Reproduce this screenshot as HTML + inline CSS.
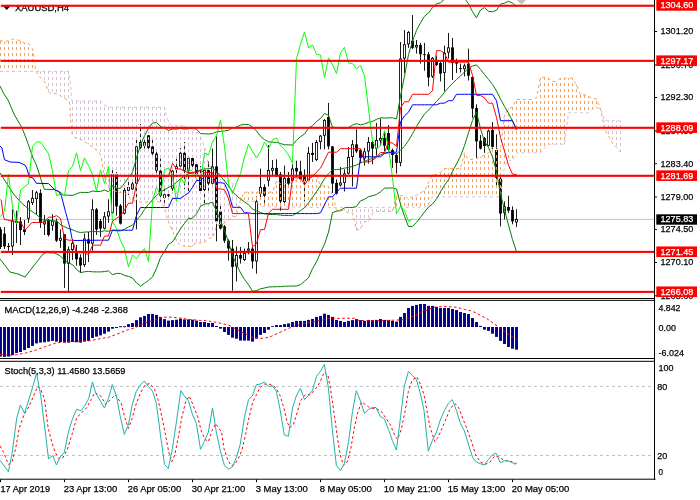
<!DOCTYPE html><html><head><meta charset="utf-8"><title>XAUUSD,H4</title>
<style>html,body{margin:0;padding:0;background:#fff;overflow:hidden}svg{display:block}text{font-family:"Liberation Sans",sans-serif;font-size:9.8px;stroke-width:0.25px}</style></head><body>
<svg width="700" height="500" viewBox="0 0 700 500">
<rect width="700" height="500" fill="#fff"/>
<defs><clipPath id="cm"><rect x="0" y="0" width="654" height="298"/></clipPath><clipPath id="c2"><rect x="0" y="301" width="654" height="58"/></clipPath><clipPath id="c3"><rect x="0" y="362" width="654" height="116"/></clipPath></defs>
<g clip-path="url(#cm)">
<rect x="0" y="218.9" width="654" height="1" fill="#c0c0c0"/>
<rect x="0.05" y="227.0" width="0.9" height="22.0" fill="#000"/>
<rect x="-0.90" y="229.3" width="2.8" height="17.7" fill="#000"/>
<rect x="4.05" y="227.0" width="0.9" height="22.0" fill="#000"/>
<rect x="3.10" y="233.6" width="2.8" height="12.8" fill="#000"/>
<rect x="8.05" y="243.0" width="0.9" height="7.7" fill="#000"/>
<rect x="7.10" y="246.0" width="2.8" height="1.0" fill="#000"/>
<rect x="12.05" y="209.3" width="0.9" height="45.7" fill="#000"/>
<rect x="11.50" y="221.1" width="2.0" height="24.9" fill="#fff" stroke="#000" stroke-width="0.85"/>
<rect x="16.05" y="210.7" width="0.9" height="32.3" fill="#000"/>
<rect x="15.10" y="221.0" width="2.8" height="2.0" fill="#000"/>
<rect x="20.05" y="217.0" width="0.9" height="28.0" fill="#000"/>
<rect x="19.10" y="221.4" width="2.8" height="8.6" fill="#000"/>
<rect x="24.05" y="220.0" width="0.9" height="15.0" fill="#000"/>
<rect x="23.10" y="229.3" width="2.8" height="2.7" fill="#000"/>
<rect x="28.05" y="200.0" width="0.9" height="22.9" fill="#000"/>
<rect x="27.50" y="201.8" width="2.0" height="16.4" fill="#fff" stroke="#000" stroke-width="0.85"/>
<rect x="32.05" y="190.0" width="0.9" height="15.0" fill="#000"/>
<rect x="31.50" y="198.3" width="2.0" height="4.2" fill="#fff" stroke="#000" stroke-width="0.85"/>
<rect x="36.05" y="191.0" width="0.9" height="23.3" fill="#000"/>
<rect x="35.50" y="192.8" width="2.0" height="5.8" fill="#fff" stroke="#000" stroke-width="0.85"/>
<rect x="40.05" y="189.3" width="0.9" height="38.6" fill="#000"/>
<rect x="39.10" y="192.9" width="2.8" height="30.0" fill="#000"/>
<rect x="44.05" y="215.0" width="0.9" height="20.0" fill="#000"/>
<rect x="43.50" y="221.8" width="2.0" height="2.1" fill="#fff" stroke="#000" stroke-width="0.85"/>
<rect x="48.05" y="219.0" width="0.9" height="17.5" fill="#000"/>
<rect x="47.10" y="220.0" width="2.8" height="15.0" fill="#000"/>
<rect x="52.05" y="214.3" width="0.9" height="16.4" fill="#000"/>
<rect x="51.50" y="221.1" width="2.0" height="4.2" fill="#fff" stroke="#000" stroke-width="0.85"/>
<rect x="56.05" y="218.6" width="0.9" height="23.4" fill="#000"/>
<rect x="55.10" y="221.4" width="2.8" height="19.3" fill="#000"/>
<rect x="60.05" y="229.3" width="0.9" height="18.6" fill="#000"/>
<rect x="59.50" y="238.3" width="2.0" height="2.0" fill="#fff" stroke="#000" stroke-width="0.85"/>
<rect x="64.05" y="234.0" width="0.9" height="53.9" fill="#000"/>
<rect x="63.10" y="234.3" width="2.8" height="29.3" fill="#000"/>
<rect x="68.05" y="246.4" width="0.9" height="44.6" fill="#000"/>
<rect x="67.50" y="249.7" width="2.0" height="13.5" fill="#fff" stroke="#000" stroke-width="0.85"/>
<rect x="72.05" y="239.3" width="0.9" height="20.7" fill="#000"/>
<rect x="71.50" y="243.3" width="2.0" height="6.3" fill="#fff" stroke="#000" stroke-width="0.85"/>
<rect x="76.05" y="245.0" width="0.9" height="20.7" fill="#000"/>
<rect x="75.10" y="252.0" width="2.8" height="7.3" fill="#000"/>
<rect x="80.05" y="254.3" width="0.9" height="18.6" fill="#000"/>
<rect x="79.10" y="257.5" width="2.8" height="8.0" fill="#000"/>
<rect x="84.05" y="233.6" width="0.9" height="33.4" fill="#000"/>
<rect x="83.50" y="239.0" width="2.0" height="25.6" fill="#fff" stroke="#000" stroke-width="0.85"/>
<rect x="88.05" y="232.0" width="0.9" height="30.0" fill="#000"/>
<rect x="87.10" y="239.3" width="2.8" height="4.3" fill="#000"/>
<rect x="92.05" y="199.3" width="0.9" height="51.4" fill="#000"/>
<rect x="91.50" y="209.7" width="2.0" height="33.5" fill="#fff" stroke="#000" stroke-width="0.85"/>
<rect x="96.05" y="208.0" width="0.9" height="27.0" fill="#000"/>
<rect x="95.10" y="209.3" width="2.8" height="20.2" fill="#000"/>
<rect x="100.05" y="219.0" width="0.9" height="18.0" fill="#000"/>
<rect x="99.10" y="221.0" width="2.8" height="7.6" fill="#000"/>
<rect x="104.05" y="212.0" width="0.9" height="17.5" fill="#000"/>
<rect x="103.50" y="216.8" width="2.0" height="11.4" fill="#fff" stroke="#000" stroke-width="0.85"/>
<rect x="108.05" y="199.3" width="0.9" height="23.6" fill="#000"/>
<rect x="107.50" y="211.8" width="2.0" height="4.2" fill="#fff" stroke="#000" stroke-width="0.85"/>
<rect x="112.05" y="169.3" width="0.9" height="44.2" fill="#000"/>
<rect x="111.50" y="174.7" width="2.0" height="37.8" fill="#fff" stroke="#000" stroke-width="0.85"/>
<rect x="116.05" y="172.0" width="0.9" height="43.7" fill="#000"/>
<rect x="115.10" y="174.3" width="2.8" height="32.1" fill="#000"/>
<rect x="120.05" y="204.0" width="0.9" height="20.5" fill="#000"/>
<rect x="119.10" y="205.7" width="2.8" height="17.9" fill="#000"/>
<rect x="124.05" y="188.0" width="0.9" height="26.5" fill="#000"/>
<rect x="123.50" y="190.4" width="2.0" height="22.8" fill="#fff" stroke="#000" stroke-width="0.85"/>
<rect x="128.05" y="182.0" width="0.9" height="13.0" fill="#000"/>
<rect x="127.50" y="187.4" width="2.0" height="2.9" fill="#fff" stroke="#000" stroke-width="0.85"/>
<rect x="132.05" y="180.0" width="0.9" height="10.0" fill="#000"/>
<rect x="131.50" y="184.0" width="2.0" height="4.9" fill="#fff" stroke="#000" stroke-width="0.85"/>
<rect x="136.05" y="139.3" width="0.9" height="90.0" fill="#000"/>
<rect x="135.50" y="146.8" width="2.0" height="36.4" fill="#fff" stroke="#000" stroke-width="0.85"/>
<rect x="140.05" y="124.0" width="0.9" height="28.0" fill="#000"/>
<rect x="139.50" y="142.4" width="2.0" height="5.1" fill="#fff" stroke="#000" stroke-width="0.85"/>
<rect x="144.05" y="139.0" width="0.9" height="9.5" fill="#000"/>
<rect x="143.50" y="142.4" width="2.0" height="2.9" fill="#fff" stroke="#000" stroke-width="0.85"/>
<rect x="148.05" y="135.0" width="0.9" height="17.0" fill="#000"/>
<rect x="147.10" y="135.3" width="2.8" height="12.6" fill="#000"/>
<rect x="152.05" y="140.0" width="0.9" height="15.0" fill="#000"/>
<rect x="151.10" y="146.4" width="2.8" height="7.2" fill="#000"/>
<rect x="156.05" y="152.0" width="0.9" height="20.9" fill="#000"/>
<rect x="155.10" y="153.6" width="2.8" height="17.1" fill="#000"/>
<rect x="160.05" y="158.6" width="0.9" height="42.8" fill="#000"/>
<rect x="159.10" y="170.7" width="2.8" height="25.0" fill="#000"/>
<rect x="164.05" y="188.6" width="0.9" height="14.3" fill="#000"/>
<rect x="163.50" y="194.7" width="2.0" height="2.8" fill="#fff" stroke="#000" stroke-width="0.85"/>
<rect x="168.05" y="190.7" width="0.9" height="8.3" fill="#000"/>
<rect x="167.10" y="194.3" width="2.8" height="1.4" fill="#000"/>
<rect x="172.05" y="167.0" width="0.9" height="23.7" fill="#000"/>
<rect x="171.50" y="171.1" width="2.0" height="17.1" fill="#fff" stroke="#000" stroke-width="0.85"/>
<rect x="176.05" y="158.6" width="0.9" height="18.4" fill="#000"/>
<rect x="175.50" y="166.8" width="2.0" height="2.1" fill="#fff" stroke="#000" stroke-width="0.85"/>
<rect x="180.05" y="147.9" width="0.9" height="20.1" fill="#000"/>
<rect x="179.50" y="153.3" width="2.0" height="12.7" fill="#fff" stroke="#000" stroke-width="0.85"/>
<rect x="184.05" y="142.0" width="0.9" height="47.3" fill="#000"/>
<rect x="183.10" y="152.9" width="2.8" height="17.8" fill="#000"/>
<rect x="188.05" y="156.0" width="0.9" height="36.0" fill="#000"/>
<rect x="187.50" y="158.3" width="2.0" height="12.0" fill="#fff" stroke="#000" stroke-width="0.85"/>
<rect x="192.05" y="157.0" width="0.9" height="10.0" fill="#000"/>
<rect x="191.10" y="158.0" width="2.8" height="7.7" fill="#000"/>
<rect x="196.05" y="161.4" width="0.9" height="14.6" fill="#000"/>
<rect x="195.10" y="164.3" width="2.8" height="10.0" fill="#000"/>
<rect x="200.05" y="166.0" width="0.9" height="27.0" fill="#000"/>
<rect x="199.10" y="175.0" width="2.8" height="16.0" fill="#000"/>
<rect x="204.05" y="167.0" width="0.9" height="36.0" fill="#000"/>
<rect x="203.50" y="170.4" width="2.0" height="19.2" fill="#fff" stroke="#000" stroke-width="0.85"/>
<rect x="208.05" y="161.4" width="0.9" height="29.3" fill="#000"/>
<rect x="207.10" y="170.0" width="2.8" height="13.6" fill="#000"/>
<rect x="212.05" y="148.6" width="0.9" height="35.9" fill="#000"/>
<rect x="211.50" y="166.8" width="2.0" height="16.4" fill="#fff" stroke="#000" stroke-width="0.85"/>
<rect x="216.05" y="136.4" width="0.9" height="105.0" fill="#000"/>
<rect x="215.10" y="166.4" width="2.8" height="55.0" fill="#000"/>
<rect x="220.05" y="203.0" width="0.9" height="26.5" fill="#000"/>
<rect x="219.10" y="211.4" width="2.8" height="17.2" fill="#000"/>
<rect x="224.05" y="225.0" width="0.9" height="17.9" fill="#000"/>
<rect x="223.10" y="226.4" width="2.8" height="14.3" fill="#000"/>
<rect x="228.05" y="239.3" width="0.9" height="21.4" fill="#000"/>
<rect x="227.10" y="240.7" width="2.8" height="7.9" fill="#000"/>
<rect x="232.05" y="240.0" width="0.9" height="50.7" fill="#000"/>
<rect x="231.10" y="248.6" width="2.8" height="18.4" fill="#000"/>
<rect x="236.05" y="246.4" width="0.9" height="35.0" fill="#000"/>
<rect x="235.50" y="255.4" width="2.0" height="10.6" fill="#fff" stroke="#000" stroke-width="0.85"/>
<rect x="240.05" y="247.0" width="0.9" height="16.6" fill="#000"/>
<rect x="239.10" y="255.0" width="2.8" height="3.6" fill="#000"/>
<rect x="244.05" y="248.6" width="0.9" height="12.4" fill="#000"/>
<rect x="243.50" y="253.3" width="2.0" height="6.3" fill="#fff" stroke="#000" stroke-width="0.85"/>
<rect x="248.05" y="242.0" width="0.9" height="12.3" fill="#000"/>
<rect x="247.50" y="249.0" width="2.0" height="1.3" fill="#fff" stroke="#000" stroke-width="0.85"/>
<rect x="252.05" y="247.0" width="0.9" height="21.6" fill="#000"/>
<rect x="251.10" y="248.6" width="2.8" height="12.8" fill="#000"/>
<rect x="256.05" y="196.4" width="0.9" height="77.2" fill="#000"/>
<rect x="255.50" y="201.8" width="2.0" height="59.2" fill="#fff" stroke="#000" stroke-width="0.85"/>
<rect x="260.05" y="168.6" width="0.9" height="28.4" fill="#000"/>
<rect x="259.50" y="187.4" width="2.0" height="5.8" fill="#fff" stroke="#000" stroke-width="0.85"/>
<rect x="264.05" y="184.3" width="0.9" height="18.6" fill="#000"/>
<rect x="263.10" y="187.0" width="2.8" height="8.7" fill="#000"/>
<rect x="268.05" y="145.0" width="0.9" height="41.4" fill="#000"/>
<rect x="267.50" y="170.4" width="2.0" height="9.9" fill="#fff" stroke="#000" stroke-width="0.85"/>
<rect x="272.05" y="160.0" width="0.9" height="15.7" fill="#000"/>
<rect x="271.50" y="168.3" width="2.0" height="2.0" fill="#fff" stroke="#000" stroke-width="0.85"/>
<rect x="276.05" y="159.3" width="0.9" height="17.7" fill="#000"/>
<rect x="275.10" y="167.9" width="2.8" height="7.8" fill="#000"/>
<rect x="280.05" y="172.0" width="0.9" height="38.7" fill="#000"/>
<rect x="279.10" y="174.3" width="2.8" height="27.1" fill="#000"/>
<rect x="284.05" y="165.7" width="0.9" height="38.3" fill="#000"/>
<rect x="283.50" y="178.3" width="2.0" height="23.3" fill="#fff" stroke="#000" stroke-width="0.85"/>
<rect x="288.05" y="172.0" width="0.9" height="15.9" fill="#000"/>
<rect x="287.10" y="177.9" width="2.8" height="5.7" fill="#000"/>
<rect x="292.05" y="164.3" width="0.9" height="17.2" fill="#000"/>
<rect x="291.50" y="169.0" width="2.0" height="11.3" fill="#fff" stroke="#000" stroke-width="0.85"/>
<rect x="296.05" y="160.7" width="0.9" height="16.3" fill="#000"/>
<rect x="295.10" y="167.9" width="2.8" height="3.5" fill="#000"/>
<rect x="300.05" y="160.7" width="0.9" height="19.3" fill="#000"/>
<rect x="299.10" y="171.4" width="2.8" height="7.9" fill="#000"/>
<rect x="304.05" y="169.3" width="0.9" height="32.2" fill="#000"/>
<rect x="303.10" y="175.7" width="2.8" height="5.7" fill="#000"/>
<rect x="308.05" y="147.0" width="0.9" height="34.5" fill="#000"/>
<rect x="307.50" y="153.3" width="2.0" height="27.0" fill="#fff" stroke="#000" stroke-width="0.85"/>
<rect x="312.05" y="142.9" width="0.9" height="19.1" fill="#000"/>
<rect x="311.10" y="152.9" width="2.8" height="2.1" fill="#000"/>
<rect x="316.05" y="140.0" width="0.9" height="21.0" fill="#000"/>
<rect x="315.50" y="142.4" width="2.0" height="17.2" fill="#fff" stroke="#000" stroke-width="0.85"/>
<rect x="320.05" y="135.0" width="0.9" height="14.3" fill="#000"/>
<rect x="319.50" y="136.1" width="2.0" height="5.5" fill="#fff" stroke="#000" stroke-width="0.85"/>
<rect x="324.05" y="119.0" width="0.9" height="30.3" fill="#000"/>
<rect x="323.50" y="120.4" width="2.0" height="14.9" fill="#fff" stroke="#000" stroke-width="0.85"/>
<rect x="328.05" y="102.9" width="0.9" height="46.4" fill="#000"/>
<rect x="327.10" y="117.0" width="2.8" height="29.4" fill="#000"/>
<rect x="332.05" y="146.0" width="0.9" height="46.9" fill="#000"/>
<rect x="331.10" y="146.4" width="2.8" height="37.2" fill="#000"/>
<rect x="336.05" y="179.3" width="0.9" height="15.2" fill="#000"/>
<rect x="335.10" y="182.9" width="2.8" height="10.7" fill="#000"/>
<rect x="340.05" y="167.0" width="0.9" height="19.5" fill="#000"/>
<rect x="339.50" y="183.0" width="2.0" height="2.0" fill="#fff" stroke="#000" stroke-width="0.85"/>
<rect x="344.05" y="169.3" width="0.9" height="22.1" fill="#000"/>
<rect x="343.50" y="174.0" width="2.0" height="8.5" fill="#fff" stroke="#000" stroke-width="0.85"/>
<rect x="348.05" y="147.0" width="0.9" height="27.5" fill="#000"/>
<rect x="347.50" y="157.4" width="2.0" height="15.8" fill="#fff" stroke="#000" stroke-width="0.85"/>
<rect x="352.05" y="140.0" width="0.9" height="46.4" fill="#000"/>
<rect x="351.50" y="144.7" width="2.0" height="11.9" fill="#fff" stroke="#000" stroke-width="0.85"/>
<rect x="356.05" y="129.3" width="0.9" height="23.7" fill="#000"/>
<rect x="355.10" y="144.3" width="2.8" height="7.1" fill="#000"/>
<rect x="360.05" y="149.0" width="0.9" height="13.9" fill="#000"/>
<rect x="359.10" y="150.0" width="2.8" height="7.9" fill="#000"/>
<rect x="364.05" y="147.9" width="0.9" height="17.8" fill="#000"/>
<rect x="363.50" y="151.8" width="2.0" height="6.4" fill="#fff" stroke="#000" stroke-width="0.85"/>
<rect x="368.05" y="137.0" width="0.9" height="26.6" fill="#000"/>
<rect x="367.50" y="142.4" width="2.0" height="8.6" fill="#fff" stroke="#000" stroke-width="0.85"/>
<rect x="372.05" y="141.0" width="0.9" height="23.3" fill="#000"/>
<rect x="371.10" y="142.0" width="2.8" height="6.6" fill="#000"/>
<rect x="376.05" y="122.9" width="0.9" height="32.8" fill="#000"/>
<rect x="375.50" y="140.4" width="2.0" height="7.8" fill="#fff" stroke="#000" stroke-width="0.85"/>
<rect x="380.05" y="118.6" width="0.9" height="27.4" fill="#000"/>
<rect x="379.50" y="138.4" width="2.0" height="1.7" fill="#fff" stroke="#000" stroke-width="0.85"/>
<rect x="384.05" y="131.4" width="0.9" height="20.0" fill="#000"/>
<rect x="383.10" y="137.9" width="2.8" height="7.8" fill="#000"/>
<rect x="388.05" y="125.0" width="0.9" height="26.0" fill="#000"/>
<rect x="387.10" y="133.0" width="2.8" height="16.7" fill="#000"/>
<rect x="392.05" y="148.6" width="0.9" height="19.3" fill="#000"/>
<rect x="391.10" y="150.0" width="2.8" height="5.0" fill="#000"/>
<rect x="396.05" y="153.0" width="0.9" height="20.6" fill="#000"/>
<rect x="395.10" y="155.0" width="2.8" height="7.9" fill="#000"/>
<rect x="400.05" y="42.0" width="0.9" height="124.4" fill="#000"/>
<rect x="399.50" y="59.0" width="2.0" height="103.5" fill="#fff" stroke="#000" stroke-width="0.85"/>
<rect x="404.05" y="30.0" width="0.9" height="43.0" fill="#000"/>
<rect x="403.50" y="44.7" width="2.0" height="13.5" fill="#fff" stroke="#000" stroke-width="0.85"/>
<rect x="408.05" y="31.0" width="0.9" height="16.9" fill="#000"/>
<rect x="407.50" y="32.4" width="2.0" height="11.5" fill="#fff" stroke="#000" stroke-width="0.85"/>
<rect x="412.05" y="15.0" width="0.9" height="34.0" fill="#000"/>
<rect x="411.10" y="40.7" width="2.8" height="7.2" fill="#000"/>
<rect x="416.05" y="40.0" width="0.9" height="13.6" fill="#000"/>
<rect x="415.50" y="45.4" width="2.0" height="1.6" fill="#fff" stroke="#000" stroke-width="0.85"/>
<rect x="420.05" y="42.9" width="0.9" height="20.7" fill="#000"/>
<rect x="419.10" y="45.0" width="2.8" height="9.3" fill="#000"/>
<rect x="424.05" y="42.9" width="0.9" height="27.8" fill="#000"/>
<rect x="423.10" y="54.2" width="2.8" height="0.9" fill="#000"/>
<rect x="428.05" y="52.0" width="0.9" height="34.4" fill="#000"/>
<rect x="427.10" y="54.3" width="2.8" height="23.2" fill="#000"/>
<rect x="432.05" y="57.0" width="0.9" height="21.0" fill="#000"/>
<rect x="431.50" y="58.3" width="2.0" height="17.8" fill="#fff" stroke="#000" stroke-width="0.85"/>
<rect x="436.05" y="55.7" width="0.9" height="10.3" fill="#000"/>
<rect x="435.10" y="60.0" width="2.8" height="5.0" fill="#000"/>
<rect x="440.05" y="62.0" width="0.9" height="19.4" fill="#000"/>
<rect x="439.10" y="62.9" width="2.8" height="10.7" fill="#000"/>
<rect x="444.05" y="45.7" width="0.9" height="45.7" fill="#000"/>
<rect x="443.50" y="53.3" width="2.0" height="19.2" fill="#fff" stroke="#000" stroke-width="0.85"/>
<rect x="448.05" y="32.9" width="0.9" height="25.7" fill="#000"/>
<rect x="447.50" y="47.8" width="2.0" height="4.4" fill="#fff" stroke="#000" stroke-width="0.85"/>
<rect x="452.05" y="37.9" width="0.9" height="42.1" fill="#000"/>
<rect x="451.10" y="47.4" width="2.8" height="15.5" fill="#000"/>
<rect x="456.05" y="58.6" width="0.9" height="14.3" fill="#000"/>
<rect x="455.10" y="61.7" width="2.8" height="1.9" fill="#000"/>
<rect x="460.05" y="63.6" width="0.9" height="8.9" fill="#000"/>
<rect x="459.10" y="68.0" width="2.8" height="0.9" fill="#000"/>
<rect x="464.05" y="63.6" width="0.9" height="12.8" fill="#000"/>
<rect x="463.50" y="65.9" width="2.0" height="2.9" fill="#fff" stroke="#000" stroke-width="0.85"/>
<rect x="468.05" y="48.6" width="0.9" height="31.9" fill="#000"/>
<rect x="467.10" y="63.6" width="2.8" height="12.1" fill="#000"/>
<rect x="472.05" y="76.0" width="0.9" height="41.9" fill="#000"/>
<rect x="471.10" y="77.0" width="2.8" height="31.6" fill="#000"/>
<rect x="476.05" y="104.3" width="0.9" height="53.6" fill="#000"/>
<rect x="475.10" y="107.9" width="2.8" height="33.5" fill="#000"/>
<rect x="480.05" y="135.0" width="0.9" height="14.5" fill="#000"/>
<rect x="479.10" y="140.7" width="2.8" height="7.9" fill="#000"/>
<rect x="484.05" y="137.0" width="0.9" height="15.9" fill="#000"/>
<rect x="483.10" y="138.0" width="2.8" height="8.0" fill="#000"/>
<rect x="488.05" y="129.5" width="0.9" height="17.0" fill="#000"/>
<rect x="487.50" y="131.1" width="2.0" height="14.2" fill="#fff" stroke="#000" stroke-width="0.85"/>
<rect x="492.05" y="122.0" width="0.9" height="28.7" fill="#000"/>
<rect x="491.10" y="130.0" width="2.8" height="17.0" fill="#000"/>
<rect x="496.05" y="134.3" width="0.9" height="52.1" fill="#000"/>
<rect x="495.10" y="150.0" width="2.8" height="27.9" fill="#000"/>
<rect x="500.05" y="177.0" width="0.9" height="49.4" fill="#000"/>
<rect x="499.10" y="178.6" width="2.8" height="35.0" fill="#000"/>
<rect x="504.05" y="201.4" width="0.9" height="17.9" fill="#000"/>
<rect x="503.50" y="206.8" width="2.0" height="5.7" fill="#fff" stroke="#000" stroke-width="0.85"/>
<rect x="508.05" y="195.7" width="0.9" height="17.2" fill="#000"/>
<rect x="507.10" y="207.0" width="2.8" height="3.7" fill="#000"/>
<rect x="512.05" y="206.4" width="0.9" height="17.9" fill="#000"/>
<rect x="511.10" y="210.0" width="2.8" height="11.4" fill="#000"/>
<rect x="516.05" y="209.3" width="0.9" height="17.7" fill="#000"/>
<rect x="515.50" y="219.4" width="2.0" height="2.6" fill="#fff" stroke="#000" stroke-width="0.85"/>
<line x1="0.5" y1="40.2" x2="0.5" y2="71.4" stroke="#f4a460" stroke-width="1" stroke-dasharray="3.1,2.9" stroke-dashoffset="5.2"/>
<line x1="4.5" y1="42.0" x2="4.5" y2="71.4" stroke="#f4a460" stroke-width="1" stroke-dasharray="3.1,2.9" stroke-dashoffset="1.0"/>
<line x1="8.5" y1="40.5" x2="8.5" y2="71.4" stroke="#f4a460" stroke-width="1" stroke-dasharray="3.1,2.9" stroke-dashoffset="5.5"/>
<line x1="12.5" y1="39.0" x2="12.5" y2="71.4" stroke="#f4a460" stroke-width="1" stroke-dasharray="3.1,2.9" stroke-dashoffset="4.0"/>
<line x1="16.5" y1="39.5" x2="16.5" y2="71.4" stroke="#f4a460" stroke-width="1" stroke-dasharray="3.1,2.9" stroke-dashoffset="4.5"/>
<line x1="20.5" y1="41.0" x2="20.5" y2="71.4" stroke="#f4a460" stroke-width="1" stroke-dasharray="3.1,2.9" stroke-dashoffset="0.0"/>
<line x1="24.5" y1="43.0" x2="24.5" y2="71.4" stroke="#f4a460" stroke-width="1" stroke-dasharray="3.1,2.9" stroke-dashoffset="2.0"/>
<line x1="28.5" y1="43.2" x2="28.5" y2="71.4" stroke="#f4a460" stroke-width="1" stroke-dasharray="3.1,2.9" stroke-dashoffset="2.2"/>
<line x1="32.5" y1="49.0" x2="32.5" y2="71.4" stroke="#f4a460" stroke-width="1" stroke-dasharray="3.1,2.9" stroke-dashoffset="2.0"/>
<line x1="40.5" y1="71.4" x2="40.5" y2="77.5" stroke="#d8bfd8" stroke-width="1" stroke-dasharray="3.1,2.9" stroke-dashoffset="0.4"/>
<line x1="44.5" y1="71.4" x2="44.5" y2="82.0" stroke="#d8bfd8" stroke-width="1" stroke-dasharray="3.1,2.9" stroke-dashoffset="0.4"/>
<line x1="48.5" y1="71.4" x2="48.5" y2="91.1" stroke="#d8bfd8" stroke-width="1" stroke-dasharray="3.1,2.9" stroke-dashoffset="0.4"/>
<line x1="52.5" y1="71.4" x2="52.5" y2="93.3" stroke="#d8bfd8" stroke-width="1" stroke-dasharray="3.1,2.9" stroke-dashoffset="0.4"/>
<line x1="56.5" y1="71.4" x2="56.5" y2="93.8" stroke="#d8bfd8" stroke-width="1" stroke-dasharray="3.1,2.9" stroke-dashoffset="0.4"/>
<line x1="60.5" y1="71.4" x2="60.5" y2="95.7" stroke="#d8bfd8" stroke-width="1" stroke-dasharray="3.1,2.9" stroke-dashoffset="0.4"/>
<line x1="64.5" y1="71.4" x2="64.5" y2="98.3" stroke="#d8bfd8" stroke-width="1" stroke-dasharray="3.1,2.9" stroke-dashoffset="0.4"/>
<line x1="68.5" y1="71.4" x2="68.5" y2="100.7" stroke="#d8bfd8" stroke-width="1" stroke-dasharray="3.1,2.9" stroke-dashoffset="0.4"/>
<line x1="72.5" y1="101.0" x2="72.5" y2="134.7" stroke="#d8bfd8" stroke-width="1" stroke-dasharray="3.1,2.9" stroke-dashoffset="0.0"/>
<line x1="76.5" y1="101.0" x2="76.5" y2="138.4" stroke="#d8bfd8" stroke-width="1" stroke-dasharray="3.1,2.9" stroke-dashoffset="0.0"/>
<line x1="80.5" y1="101.0" x2="80.5" y2="139.6" stroke="#d8bfd8" stroke-width="1" stroke-dasharray="3.1,2.9" stroke-dashoffset="0.0"/>
<line x1="84.5" y1="101.0" x2="84.5" y2="141.7" stroke="#d8bfd8" stroke-width="1" stroke-dasharray="3.1,2.9" stroke-dashoffset="0.0"/>
<line x1="88.5" y1="101.0" x2="88.5" y2="144.3" stroke="#d8bfd8" stroke-width="1" stroke-dasharray="3.1,2.9" stroke-dashoffset="0.0"/>
<line x1="92.5" y1="101.0" x2="92.5" y2="147.2" stroke="#d8bfd8" stroke-width="1" stroke-dasharray="3.1,2.9" stroke-dashoffset="0.0"/>
<line x1="96.5" y1="101.0" x2="96.5" y2="149.9" stroke="#d8bfd8" stroke-width="1" stroke-dasharray="3.1,2.9" stroke-dashoffset="0.0"/>
<line x1="100.5" y1="101.0" x2="100.5" y2="155.4" stroke="#d8bfd8" stroke-width="1" stroke-dasharray="3.1,2.9" stroke-dashoffset="0.0"/>
<line x1="104.5" y1="105.2" x2="104.5" y2="177.2" stroke="#d8bfd8" stroke-width="1" stroke-dasharray="3.1,2.9" stroke-dashoffset="4.2"/>
<line x1="108.5" y1="106.6" x2="108.5" y2="187.7" stroke="#d8bfd8" stroke-width="1" stroke-dasharray="3.1,2.9" stroke-dashoffset="5.6"/>
<line x1="112.5" y1="107.3" x2="112.5" y2="190.4" stroke="#d8bfd8" stroke-width="1" stroke-dasharray="3.1,2.9" stroke-dashoffset="0.3"/>
<line x1="116.5" y1="107.3" x2="116.5" y2="191.7" stroke="#d8bfd8" stroke-width="1" stroke-dasharray="3.1,2.9" stroke-dashoffset="0.3"/>
<line x1="120.5" y1="107.3" x2="120.5" y2="192.5" stroke="#d8bfd8" stroke-width="1" stroke-dasharray="3.1,2.9" stroke-dashoffset="0.3"/>
<line x1="124.5" y1="107.3" x2="124.5" y2="193.3" stroke="#d8bfd8" stroke-width="1" stroke-dasharray="3.1,2.9" stroke-dashoffset="0.3"/>
<line x1="128.5" y1="107.3" x2="128.5" y2="195.5" stroke="#d8bfd8" stroke-width="1" stroke-dasharray="3.1,2.9" stroke-dashoffset="0.3"/>
<line x1="132.5" y1="107.3" x2="132.5" y2="199.8" stroke="#d8bfd8" stroke-width="1" stroke-dasharray="3.1,2.9" stroke-dashoffset="0.3"/>
<line x1="136.5" y1="107.3" x2="136.5" y2="201.5" stroke="#d8bfd8" stroke-width="1" stroke-dasharray="3.1,2.9" stroke-dashoffset="0.3"/>
<line x1="140.5" y1="107.3" x2="140.5" y2="202.0" stroke="#d8bfd8" stroke-width="1" stroke-dasharray="3.1,2.9" stroke-dashoffset="0.3"/>
<line x1="144.5" y1="107.3" x2="144.5" y2="202.0" stroke="#d8bfd8" stroke-width="1" stroke-dasharray="3.1,2.9" stroke-dashoffset="0.3"/>
<line x1="148.5" y1="107.3" x2="148.5" y2="201.8" stroke="#d8bfd8" stroke-width="1" stroke-dasharray="3.1,2.9" stroke-dashoffset="0.3"/>
<line x1="152.5" y1="107.3" x2="152.5" y2="201.4" stroke="#d8bfd8" stroke-width="1" stroke-dasharray="3.1,2.9" stroke-dashoffset="0.3"/>
<line x1="156.5" y1="107.3" x2="156.5" y2="201.7" stroke="#d8bfd8" stroke-width="1" stroke-dasharray="3.1,2.9" stroke-dashoffset="0.3"/>
<line x1="160.5" y1="107.3" x2="160.5" y2="202.6" stroke="#d8bfd8" stroke-width="1" stroke-dasharray="3.1,2.9" stroke-dashoffset="0.3"/>
<line x1="164.5" y1="107.3" x2="164.5" y2="207.8" stroke="#d8bfd8" stroke-width="1" stroke-dasharray="3.1,2.9" stroke-dashoffset="0.3"/>
<line x1="168.5" y1="121.1" x2="168.5" y2="221.5" stroke="#d8bfd8" stroke-width="1" stroke-dasharray="3.1,2.9" stroke-dashoffset="2.1"/>
<line x1="172.5" y1="125.7" x2="172.5" y2="230.6" stroke="#d8bfd8" stroke-width="1" stroke-dasharray="3.1,2.9" stroke-dashoffset="0.7"/>
<line x1="176.5" y1="125.7" x2="176.5" y2="240.9" stroke="#d8bfd8" stroke-width="1" stroke-dasharray="3.1,2.9" stroke-dashoffset="0.7"/>
<line x1="180.5" y1="125.7" x2="180.5" y2="245.1" stroke="#d8bfd8" stroke-width="1" stroke-dasharray="3.1,2.9" stroke-dashoffset="0.7"/>
<line x1="184.5" y1="125.9" x2="184.5" y2="246.1" stroke="#d8bfd8" stroke-width="1" stroke-dasharray="3.1,2.9" stroke-dashoffset="0.9"/>
<line x1="188.5" y1="129.0" x2="188.5" y2="246.4" stroke="#d8bfd8" stroke-width="1" stroke-dasharray="3.1,2.9" stroke-dashoffset="4.0"/>
<line x1="192.5" y1="129.9" x2="192.5" y2="246.4" stroke="#d8bfd8" stroke-width="1" stroke-dasharray="3.1,2.9" stroke-dashoffset="4.9"/>
<line x1="196.5" y1="131.7" x2="196.5" y2="242.9" stroke="#d8bfd8" stroke-width="1" stroke-dasharray="3.1,2.9" stroke-dashoffset="0.7"/>
<line x1="200.5" y1="136.7" x2="200.5" y2="242.9" stroke="#d8bfd8" stroke-width="1" stroke-dasharray="3.1,2.9" stroke-dashoffset="5.7"/>
<line x1="204.5" y1="147.0" x2="204.5" y2="242.7" stroke="#d8bfd8" stroke-width="1" stroke-dasharray="3.1,2.9" stroke-dashoffset="4.0"/>
<line x1="208.5" y1="163.5" x2="208.5" y2="238.1" stroke="#d8bfd8" stroke-width="1" stroke-dasharray="3.1,2.9" stroke-dashoffset="2.5"/>
<line x1="212.5" y1="168.8" x2="212.5" y2="238.1" stroke="#d8bfd8" stroke-width="1" stroke-dasharray="3.1,2.9" stroke-dashoffset="1.8"/>
<line x1="216.5" y1="171.6" x2="216.5" y2="225.6" stroke="#d8bfd8" stroke-width="1" stroke-dasharray="3.1,2.9" stroke-dashoffset="4.6"/>
<line x1="220.5" y1="174.3" x2="220.5" y2="224.2" stroke="#d8bfd8" stroke-width="1" stroke-dasharray="3.1,2.9" stroke-dashoffset="1.3"/>
<line x1="224.5" y1="177.1" x2="224.5" y2="222.9" stroke="#d8bfd8" stroke-width="1" stroke-dasharray="3.1,2.9" stroke-dashoffset="4.1"/>
<line x1="228.5" y1="179.9" x2="228.5" y2="220.1" stroke="#d8bfd8" stroke-width="1" stroke-dasharray="3.1,2.9" stroke-dashoffset="0.9"/>
<line x1="232.5" y1="182.6" x2="232.5" y2="216.7" stroke="#d8bfd8" stroke-width="1" stroke-dasharray="3.1,2.9" stroke-dashoffset="3.6"/>
<line x1="236.5" y1="194.1" x2="236.5" y2="216.7" stroke="#d8bfd8" stroke-width="1" stroke-dasharray="3.1,2.9" stroke-dashoffset="3.1"/>
<line x1="240.5" y1="197.5" x2="240.5" y2="199.8" stroke="#d8bfd8" stroke-width="1" stroke-dasharray="3.1,2.9" stroke-dashoffset="0.5"/>
<line x1="244.5" y1="192.1" x2="244.5" y2="200.2" stroke="#f4a460" stroke-width="1" stroke-dasharray="3.1,2.9" stroke-dashoffset="1.1"/>
<line x1="248.5" y1="192.1" x2="248.5" y2="201.4" stroke="#f4a460" stroke-width="1" stroke-dasharray="3.1,2.9" stroke-dashoffset="1.1"/>
<line x1="252.5" y1="192.1" x2="252.5" y2="201.4" stroke="#f4a460" stroke-width="1" stroke-dasharray="3.1,2.9" stroke-dashoffset="1.1"/>
<line x1="256.5" y1="192.1" x2="256.5" y2="202.4" stroke="#f4a460" stroke-width="1" stroke-dasharray="3.1,2.9" stroke-dashoffset="1.1"/>
<line x1="260.5" y1="192.1" x2="260.5" y2="205.4" stroke="#f4a460" stroke-width="1" stroke-dasharray="3.1,2.9" stroke-dashoffset="1.1"/>
<line x1="264.5" y1="192.1" x2="264.5" y2="206.8" stroke="#f4a460" stroke-width="1" stroke-dasharray="3.1,2.9" stroke-dashoffset="1.1"/>
<line x1="268.5" y1="192.1" x2="268.5" y2="206.8" stroke="#f4a460" stroke-width="1" stroke-dasharray="3.1,2.9" stroke-dashoffset="1.1"/>
<line x1="272.5" y1="192.1" x2="272.5" y2="206.9" stroke="#f4a460" stroke-width="1" stroke-dasharray="3.1,2.9" stroke-dashoffset="1.1"/>
<line x1="276.5" y1="180.9" x2="276.5" y2="206.9" stroke="#f4a460" stroke-width="1" stroke-dasharray="3.1,2.9" stroke-dashoffset="1.9"/>
<line x1="280.5" y1="183.7" x2="280.5" y2="206.9" stroke="#f4a460" stroke-width="1" stroke-dasharray="3.1,2.9" stroke-dashoffset="4.7"/>
<line x1="284.5" y1="183.7" x2="284.5" y2="207.0" stroke="#f4a460" stroke-width="1" stroke-dasharray="3.1,2.9" stroke-dashoffset="4.7"/>
<line x1="288.5" y1="183.5" x2="288.5" y2="207.0" stroke="#f4a460" stroke-width="1" stroke-dasharray="3.1,2.9" stroke-dashoffset="4.5"/>
<line x1="292.5" y1="182.7" x2="292.5" y2="207.0" stroke="#f4a460" stroke-width="1" stroke-dasharray="3.1,2.9" stroke-dashoffset="3.7"/>
<line x1="296.5" y1="179.9" x2="296.5" y2="207.0" stroke="#f4a460" stroke-width="1" stroke-dasharray="3.1,2.9" stroke-dashoffset="0.9"/>
<line x1="300.5" y1="176.5" x2="300.5" y2="207.1" stroke="#f4a460" stroke-width="1" stroke-dasharray="3.1,2.9" stroke-dashoffset="3.5"/>
<line x1="304.5" y1="175.5" x2="304.5" y2="207.1" stroke="#f4a460" stroke-width="1" stroke-dasharray="3.1,2.9" stroke-dashoffset="2.5"/>
<line x1="308.5" y1="174.6" x2="308.5" y2="207.5" stroke="#f4a460" stroke-width="1" stroke-dasharray="3.1,2.9" stroke-dashoffset="1.6"/>
<line x1="312.5" y1="174.6" x2="312.5" y2="207.5" stroke="#f4a460" stroke-width="1" stroke-dasharray="3.1,2.9" stroke-dashoffset="1.6"/>
<line x1="316.5" y1="174.6" x2="316.5" y2="207.5" stroke="#f4a460" stroke-width="1" stroke-dasharray="3.1,2.9" stroke-dashoffset="1.6"/>
<line x1="320.5" y1="185.8" x2="320.5" y2="207.5" stroke="#f4a460" stroke-width="1" stroke-dasharray="3.1,2.9" stroke-dashoffset="0.8"/>
<line x1="324.5" y1="185.8" x2="324.5" y2="207.5" stroke="#f4a460" stroke-width="1" stroke-dasharray="3.1,2.9" stroke-dashoffset="0.8"/>
<line x1="328.5" y1="186.6" x2="328.5" y2="207.5" stroke="#f4a460" stroke-width="1" stroke-dasharray="3.1,2.9" stroke-dashoffset="1.6"/>
<line x1="332.5" y1="195.4" x2="332.5" y2="207.5" stroke="#f4a460" stroke-width="1" stroke-dasharray="3.1,2.9" stroke-dashoffset="4.4"/>
<line x1="336.5" y1="207.5" x2="336.5" y2="210.4" stroke="#d8bfd8" stroke-width="1" stroke-dasharray="3.1,2.9" stroke-dashoffset="4.5"/>
<line x1="340.5" y1="207.5" x2="340.5" y2="210.4" stroke="#d8bfd8" stroke-width="1" stroke-dasharray="3.1,2.9" stroke-dashoffset="4.5"/>
<line x1="344.5" y1="207.5" x2="344.5" y2="210.4" stroke="#d8bfd8" stroke-width="1" stroke-dasharray="3.1,2.9" stroke-dashoffset="4.5"/>
<line x1="348.5" y1="207.5" x2="348.5" y2="213.2" stroke="#d8bfd8" stroke-width="1" stroke-dasharray="3.1,2.9" stroke-dashoffset="4.5"/>
<line x1="352.5" y1="207.5" x2="352.5" y2="213.2" stroke="#d8bfd8" stroke-width="1" stroke-dasharray="3.1,2.9" stroke-dashoffset="4.5"/>
<line x1="356.5" y1="207.5" x2="356.5" y2="230.2" stroke="#d8bfd8" stroke-width="1" stroke-dasharray="3.1,2.9" stroke-dashoffset="4.5"/>
<line x1="360.5" y1="207.5" x2="360.5" y2="228.6" stroke="#d8bfd8" stroke-width="1" stroke-dasharray="3.1,2.9" stroke-dashoffset="4.5"/>
<line x1="364.5" y1="207.5" x2="364.5" y2="221.6" stroke="#d8bfd8" stroke-width="1" stroke-dasharray="3.1,2.9" stroke-dashoffset="4.5"/>
<line x1="368.5" y1="207.5" x2="368.5" y2="221.6" stroke="#d8bfd8" stroke-width="1" stroke-dasharray="3.1,2.9" stroke-dashoffset="4.5"/>
<line x1="372.5" y1="207.5" x2="372.5" y2="213.4" stroke="#d8bfd8" stroke-width="1" stroke-dasharray="3.1,2.9" stroke-dashoffset="4.5"/>
<line x1="376.5" y1="207.5" x2="376.5" y2="211.4" stroke="#d8bfd8" stroke-width="1" stroke-dasharray="3.1,2.9" stroke-dashoffset="4.5"/>
<line x1="380.5" y1="207.3" x2="380.5" y2="211.4" stroke="#d8bfd8" stroke-width="1" stroke-dasharray="3.1,2.9" stroke-dashoffset="4.3"/>
<line x1="384.5" y1="207.3" x2="384.5" y2="211.4" stroke="#d8bfd8" stroke-width="1" stroke-dasharray="3.1,2.9" stroke-dashoffset="4.3"/>
<line x1="388.5" y1="207.3" x2="388.5" y2="211.4" stroke="#d8bfd8" stroke-width="1" stroke-dasharray="3.1,2.9" stroke-dashoffset="4.3"/>
<line x1="392.5" y1="207.3" x2="392.5" y2="211.4" stroke="#d8bfd8" stroke-width="1" stroke-dasharray="3.1,2.9" stroke-dashoffset="4.3"/>
<line x1="396.5" y1="195.7" x2="396.5" y2="207.3" stroke="#f4a460" stroke-width="1" stroke-dasharray="3.1,2.9" stroke-dashoffset="4.7"/>
<line x1="400.5" y1="195.7" x2="400.5" y2="207.3" stroke="#f4a460" stroke-width="1" stroke-dasharray="3.1,2.9" stroke-dashoffset="4.7"/>
<line x1="404.5" y1="195.7" x2="404.5" y2="207.3" stroke="#f4a460" stroke-width="1" stroke-dasharray="3.1,2.9" stroke-dashoffset="4.7"/>
<line x1="408.5" y1="199.3" x2="408.5" y2="207.3" stroke="#f4a460" stroke-width="1" stroke-dasharray="3.1,2.9" stroke-dashoffset="2.3"/>
<line x1="412.5" y1="196.2" x2="412.5" y2="207.3" stroke="#f4a460" stroke-width="1" stroke-dasharray="3.1,2.9" stroke-dashoffset="5.2"/>
<line x1="416.5" y1="195.2" x2="416.5" y2="207.3" stroke="#f4a460" stroke-width="1" stroke-dasharray="3.1,2.9" stroke-dashoffset="4.2"/>
<line x1="420.5" y1="192.8" x2="420.5" y2="207.3" stroke="#f4a460" stroke-width="1" stroke-dasharray="3.1,2.9" stroke-dashoffset="1.8"/>
<line x1="424.5" y1="190.6" x2="424.5" y2="207.3" stroke="#f4a460" stroke-width="1" stroke-dasharray="3.1,2.9" stroke-dashoffset="5.6"/>
<line x1="428.5" y1="182.6" x2="428.5" y2="204.8" stroke="#f4a460" stroke-width="1" stroke-dasharray="3.1,2.9" stroke-dashoffset="3.6"/>
<line x1="432.5" y1="174.5" x2="432.5" y2="196.8" stroke="#f4a460" stroke-width="1" stroke-dasharray="3.1,2.9" stroke-dashoffset="1.5"/>
<line x1="436.5" y1="174.5" x2="436.5" y2="196.8" stroke="#f4a460" stroke-width="1" stroke-dasharray="3.1,2.9" stroke-dashoffset="1.5"/>
<line x1="440.5" y1="172.2" x2="440.5" y2="196.8" stroke="#f4a460" stroke-width="1" stroke-dasharray="3.1,2.9" stroke-dashoffset="5.2"/>
<line x1="444.5" y1="168.5" x2="444.5" y2="196.8" stroke="#f4a460" stroke-width="1" stroke-dasharray="3.1,2.9" stroke-dashoffset="1.5"/>
<line x1="448.5" y1="168.5" x2="448.5" y2="196.8" stroke="#f4a460" stroke-width="1" stroke-dasharray="3.1,2.9" stroke-dashoffset="1.5"/>
<line x1="452.5" y1="168.5" x2="452.5" y2="196.8" stroke="#f4a460" stroke-width="1" stroke-dasharray="3.1,2.9" stroke-dashoffset="1.5"/>
<line x1="456.5" y1="168.5" x2="456.5" y2="196.8" stroke="#f4a460" stroke-width="1" stroke-dasharray="3.1,2.9" stroke-dashoffset="1.5"/>
<line x1="460.5" y1="168.5" x2="460.5" y2="196.8" stroke="#f4a460" stroke-width="1" stroke-dasharray="3.1,2.9" stroke-dashoffset="1.5"/>
<line x1="464.5" y1="152.8" x2="464.5" y2="196.8" stroke="#f4a460" stroke-width="1" stroke-dasharray="3.1,2.9" stroke-dashoffset="3.8"/>
<line x1="468.5" y1="159.4" x2="468.5" y2="196.8" stroke="#f4a460" stroke-width="1" stroke-dasharray="3.1,2.9" stroke-dashoffset="4.4"/>
<line x1="472.5" y1="159.4" x2="472.5" y2="196.8" stroke="#f4a460" stroke-width="1" stroke-dasharray="3.1,2.9" stroke-dashoffset="4.4"/>
<line x1="476.5" y1="158.6" x2="476.5" y2="196.8" stroke="#f4a460" stroke-width="1" stroke-dasharray="3.1,2.9" stroke-dashoffset="3.6"/>
<line x1="480.5" y1="157.0" x2="480.5" y2="196.8" stroke="#f4a460" stroke-width="1" stroke-dasharray="3.1,2.9" stroke-dashoffset="2.0"/>
<line x1="484.5" y1="154.7" x2="484.5" y2="196.8" stroke="#f4a460" stroke-width="1" stroke-dasharray="3.1,2.9" stroke-dashoffset="5.7"/>
<line x1="488.5" y1="153.0" x2="488.5" y2="196.8" stroke="#f4a460" stroke-width="1" stroke-dasharray="3.1,2.9" stroke-dashoffset="4.0"/>
<line x1="492.5" y1="147.2" x2="492.5" y2="196.8" stroke="#f4a460" stroke-width="1" stroke-dasharray="3.1,2.9" stroke-dashoffset="4.2"/>
<line x1="496.5" y1="147.7" x2="496.5" y2="196.8" stroke="#f4a460" stroke-width="1" stroke-dasharray="3.1,2.9" stroke-dashoffset="4.7"/>
<line x1="500.5" y1="149.1" x2="500.5" y2="196.8" stroke="#f4a460" stroke-width="1" stroke-dasharray="3.1,2.9" stroke-dashoffset="0.1"/>
<line x1="504.5" y1="114.8" x2="504.5" y2="166.3" stroke="#f4a460" stroke-width="1" stroke-dasharray="3.1,2.9" stroke-dashoffset="1.8"/>
<line x1="508.5" y1="108.8" x2="508.5" y2="160.3" stroke="#f4a460" stroke-width="1" stroke-dasharray="3.1,2.9" stroke-dashoffset="1.8"/>
<line x1="512.5" y1="107.0" x2="512.5" y2="160.3" stroke="#f4a460" stroke-width="1" stroke-dasharray="3.1,2.9" stroke-dashoffset="0.0"/>
<line x1="516.5" y1="99.5" x2="516.5" y2="152.8" stroke="#f4a460" stroke-width="1" stroke-dasharray="3.1,2.9" stroke-dashoffset="4.5"/>
<line x1="520.5" y1="99.5" x2="520.5" y2="152.8" stroke="#f4a460" stroke-width="1" stroke-dasharray="3.1,2.9" stroke-dashoffset="4.5"/>
<line x1="524.5" y1="99.5" x2="524.5" y2="152.8" stroke="#f4a460" stroke-width="1" stroke-dasharray="3.1,2.9" stroke-dashoffset="4.5"/>
<line x1="528.5" y1="99.5" x2="528.5" y2="152.8" stroke="#f4a460" stroke-width="1" stroke-dasharray="3.1,2.9" stroke-dashoffset="4.5"/>
<line x1="532.5" y1="99.5" x2="532.5" y2="152.8" stroke="#f4a460" stroke-width="1" stroke-dasharray="3.1,2.9" stroke-dashoffset="4.5"/>
<line x1="536.5" y1="97.7" x2="536.5" y2="152.8" stroke="#f4a460" stroke-width="1" stroke-dasharray="3.1,2.9" stroke-dashoffset="2.7"/>
<line x1="540.5" y1="77.7" x2="540.5" y2="152.8" stroke="#f4a460" stroke-width="1" stroke-dasharray="3.1,2.9" stroke-dashoffset="0.7"/>
<line x1="544.5" y1="77.0" x2="544.5" y2="148.2" stroke="#f4a460" stroke-width="1" stroke-dasharray="3.1,2.9" stroke-dashoffset="6.0"/>
<line x1="548.5" y1="78.2" x2="548.5" y2="144.3" stroke="#f4a460" stroke-width="1" stroke-dasharray="3.1,2.9" stroke-dashoffset="1.2"/>
<line x1="552.5" y1="81.4" x2="552.5" y2="144.3" stroke="#f4a460" stroke-width="1" stroke-dasharray="3.1,2.9" stroke-dashoffset="4.4"/>
<line x1="556.5" y1="81.4" x2="556.5" y2="144.3" stroke="#f4a460" stroke-width="1" stroke-dasharray="3.1,2.9" stroke-dashoffset="4.4"/>
<line x1="560.5" y1="78.2" x2="560.5" y2="144.3" stroke="#f4a460" stroke-width="1" stroke-dasharray="3.1,2.9" stroke-dashoffset="1.2"/>
<line x1="564.5" y1="78.2" x2="564.5" y2="144.3" stroke="#f4a460" stroke-width="1" stroke-dasharray="3.1,2.9" stroke-dashoffset="1.2"/>
<line x1="568.5" y1="78.2" x2="568.5" y2="112.8" stroke="#f4a460" stroke-width="1" stroke-dasharray="3.1,2.9" stroke-dashoffset="1.2"/>
<line x1="572.5" y1="78.2" x2="572.5" y2="112.8" stroke="#f4a460" stroke-width="1" stroke-dasharray="3.1,2.9" stroke-dashoffset="1.2"/>
<line x1="576.5" y1="84.8" x2="576.5" y2="112.8" stroke="#f4a460" stroke-width="1" stroke-dasharray="3.1,2.9" stroke-dashoffset="1.8"/>
<line x1="580.5" y1="94.8" x2="580.5" y2="112.8" stroke="#f4a460" stroke-width="1" stroke-dasharray="3.1,2.9" stroke-dashoffset="5.8"/>
<line x1="584.5" y1="94.8" x2="584.5" y2="112.8" stroke="#f4a460" stroke-width="1" stroke-dasharray="3.1,2.9" stroke-dashoffset="5.8"/>
<line x1="588.5" y1="96.1" x2="588.5" y2="112.8" stroke="#f4a460" stroke-width="1" stroke-dasharray="3.1,2.9" stroke-dashoffset="1.1"/>
<line x1="592.5" y1="98.8" x2="592.5" y2="109.5" stroke="#f4a460" stroke-width="1" stroke-dasharray="3.1,2.9" stroke-dashoffset="3.8"/>
<line x1="596.5" y1="98.8" x2="596.5" y2="108.2" stroke="#f4a460" stroke-width="1" stroke-dasharray="3.1,2.9" stroke-dashoffset="3.8"/>
<line x1="604.5" y1="120.7" x2="604.5" y2="129.1" stroke="#d8bfd8" stroke-width="1" stroke-dasharray="3.1,2.9" stroke-dashoffset="1.7"/>
<line x1="608.5" y1="120.7" x2="608.5" y2="135.9" stroke="#d8bfd8" stroke-width="1" stroke-dasharray="3.1,2.9" stroke-dashoffset="1.7"/>
<line x1="612.5" y1="120.7" x2="612.5" y2="143.0" stroke="#d8bfd8" stroke-width="1" stroke-dasharray="3.1,2.9" stroke-dashoffset="1.7"/>
<line x1="616.5" y1="120.7" x2="616.5" y2="147.4" stroke="#d8bfd8" stroke-width="1" stroke-dasharray="3.1,2.9" stroke-dashoffset="1.7"/>
<line x1="620.5" y1="121.0" x2="620.5" y2="152.2" stroke="#d8bfd8" stroke-width="1" stroke-dasharray="3.1,2.9" stroke-dashoffset="2.0"/>
<polyline points="0.0,40.0 4.5,42.0 8.5,40.5 12.5,39.0 16.5,39.5 20.5,41.0 24.5,43.0 28.5,43.2 32.5,49.0 33.6,56.0 35.0,66.0 36.0,71.4 40.0,77.0 43.0,80.0 46.0,84.0 47.6,90.0 50.0,93.0 58.0,94.0 64.0,98.0 69.0,101.0 70.0,106.0 70.4,118.0 71.0,124.0 72.0,134.0 75.0,138.0 82.0,140.0 88.0,144.0 98.0,151.0 100.7,155.7 102.0,162.0 103.6,173.6 105.7,182.0 108.6,187.9 111.4,190.0 117.0,191.9 122.9,192.9 127.9,194.3 130.0,198.6 135.7,201.4 140.0,202.0 147.0,202.0 152.9,201.4 160.0,202.0 164.3,207.0 166.4,215.7 170.0,225.7 172.9,231.4 175.7,240.0 180.0,245.0 185.7,246.4 192.9,246.4 195.0,242.9 203.6,242.9 204.5,242.7 208.5,238.1 212.5,238.1 216.5,225.6 220.5,224.2 224.5,222.9 228.5,220.1 232.5,216.7 236.5,216.7 240.5,199.8 244.5,192.1 248.5,192.1 252.5,192.1 256.5,192.1 260.5,192.1 264.5,192.1 268.5,192.1 272.5,192.1 276.5,180.9 280.5,183.7 284.5,183.7 288.5,183.5 292.5,182.7 296.5,179.9 300.5,176.5 304.5,175.5 308.5,174.6 312.5,174.6 316.5,174.6 320.5,185.8 324.5,185.8 328.5,186.6 332.5,195.4 336.5,210.4 340.5,210.4 344.5,210.4 348.5,213.2 352.5,213.2 356.5,230.2 360.5,228.6 364.5,221.6 368.5,221.6 372.5,213.4 376.5,211.4 380.5,211.4 384.5,211.4 388.5,211.4 392.5,211.4 396.5,195.7 400.5,195.7 404.5,195.7 408.5,199.3 412.5,196.2 416.5,195.2 420.5,192.8 424.5,190.6 428.5,182.6 432.5,174.5 436.5,174.5 440.5,172.2 444.5,168.5 448.5,168.5 452.5,168.5 456.5,168.5 460.5,168.5 464.5,152.8 468.5,159.4 472.5,159.4 476.5,158.6 480.5,157.0 484.5,154.7 488.5,153.0 492.5,147.2 496.5,147.7 500.5,149.1 504.5,114.8 508.5,108.8 512.5,107.0 516.5,99.5 520.5,99.5 524.5,99.5 528.5,99.5 532.5,99.5 536.5,97.7 540.5,77.7 544.5,77.0 548.5,78.2 552.5,81.4 556.5,81.4 560.5,78.2 564.5,78.2 568.5,78.2 572.5,78.2 576.5,84.8 580.5,94.8 584.5,94.8 588.5,96.1 592.5,98.8 596.5,98.8 600.5,109.1 604.5,129.1 608.5,135.9 612.5,143.0 616.5,147.4 620.5,152.2" fill="none" stroke="#f4a460" stroke-width="1" stroke-dasharray="3.1,2.9" />
<polyline points="0.0,71.4 68.5,71.4 70.0,80.0 71.0,90.0 72.0,100.5 72.5,101.0 101.0,101.0 104.0,105.0 108.0,106.5 112.0,107.3 164.5,107.3 166.4,115.7 168.6,121.4 171.4,125.7 184.3,125.7 187.0,128.6 195.7,130.7 200.7,137.0 202.9,142.9 205.7,150.0 207.0,160.0 210.0,167.0 220.0,174.0 232.9,182.9 233.6,190.7 237.9,195.7 242.0,198.6 246.4,201.4 255.0,201.4 259.3,204.3 262.0,206.8 306.0,207.1 308.5,207.5 312.5,207.5 316.5,207.5 320.5,207.5 324.5,207.5 328.5,207.5 332.5,207.5 336.5,207.5 340.5,207.5 344.5,207.5 348.5,207.5 352.5,207.5 356.5,207.5 360.5,207.5 364.5,207.5 368.5,207.5 372.5,207.5 376.5,207.5 380.5,207.3 384.5,207.3 388.5,207.3 392.5,207.3 396.5,207.3 400.5,207.3 404.5,207.3 408.5,207.3 412.5,207.3 416.5,207.3 420.5,207.3 424.5,207.3 428.5,204.8 432.5,196.8 436.5,196.8 440.5,196.8 444.5,196.8 448.5,196.8 452.5,196.8 456.5,196.8 460.5,196.8 464.5,196.8 468.5,196.8 472.5,196.8 476.5,196.8 480.5,196.8 484.5,196.8 488.5,196.8 492.5,196.8 496.5,196.8 500.5,196.8 504.5,166.3 508.5,160.3 512.5,160.3 516.5,152.8 520.5,152.8 524.5,152.8 528.5,152.8 532.5,152.8 536.5,152.8 540.5,152.8 544.5,148.2 548.5,144.3 552.5,144.3 556.5,144.3 560.5,144.3 564.5,144.3 568.5,112.8 572.5,112.8 576.5,112.8 580.5,112.8 584.5,112.8 588.5,112.8 592.5,109.5 596.5,108.2 600.5,108.2 604.5,120.7 608.5,120.7 612.5,120.7 616.5,120.7 620.5,121.0" fill="none" stroke="#d8bfd8" stroke-width="1" stroke-dasharray="3.1,2.9" />
<polyline points="0.0,86.0 4.0,94.0 8.0,100.0 14.0,114.0 22.0,128.0 26.0,138.0 33.0,158.0 36.4,165.0 41.4,180.7 44.3,189.3 54.3,189.6 60.0,192.0 63.6,195.0 72.9,195.4 76.5,193.8 80.5,192.4 84.5,192.4 88.5,192.5 92.5,191.0 96.5,191.5 100.5,191.4 104.5,190.0 108.5,191.8 112.5,185.6 116.5,188.3 120.5,188.3 124.5,183.3 128.5,177.5 132.5,172.2 136.5,157.9 140.5,145.0 144.5,135.7 148.5,128.3 152.5,123.0 156.5,122.6 160.5,126.6 164.5,127.9 168.5,130.5 172.5,129.0 176.5,129.1 180.5,128.4 184.5,129.1 188.5,128.7 192.5,128.1 196.5,129.2 200.5,133.6 204.5,133.8 208.5,133.9 212.5,133.7 216.5,131.8 220.5,131.4 224.5,130.9 228.5,130.3 232.5,127.8 236.5,127.2 240.5,125.0 244.5,124.4 248.5,124.5 252.5,127.0 256.5,131.0 260.5,136.3 264.5,139.6 268.5,141.8 272.5,142.2 276.5,142.4 280.5,143.5 284.5,144.8 288.5,144.8 292.5,145.2 296.5,140.2 300.5,136.7 304.5,134.0 308.5,128.1 312.5,125.8 316.5,121.5 320.5,118.4 324.5,113.5 328.5,115.4 332.5,127.1 336.5,127.7 340.5,127.8 344.5,128.5 348.5,127.5 352.5,125.1 356.5,123.6 360.5,124.9 364.5,123.9 368.5,122.3 372.5,121.3 376.5,119.4 380.5,117.9 384.5,118.0 388.5,117.8 392.5,117.8 396.5,119.0 400.5,96.1 404.5,76.2 408.5,54.6 412.5,41.3 416.5,30.4 420.5,22.8 424.5,16.2 428.5,13.0 432.5,7.5 436.5,4.0 440.5,2.7 444.5,-0.7 448.5,-4.4 452.5,-4.9 456.5,-5.1 460.5,-4.2 464.5,-1.6 468.5,3.8 472.5,11.6 476.5,17.8 480.5,10.0 484.5,7.6 488.5,11.3 492.5,11.8 496.5,10.2 500.5,4.1 504.5,3.1 508.5,1.3 512.5,3.1 516.5,6.5" fill="none" stroke="#008000" stroke-width="1" />
<polyline points="0.0,172.9 5.7,182.0 14.3,195.0 21.4,202.9 28.6,209.0 37.0,215.0 42.9,220.0 50.0,220.3 57.0,221.4 61.4,225.4 68.0,228.3 74.3,230.4 76.5,231.6 80.5,232.5 84.5,232.1 88.5,231.9 92.5,231.4 96.5,231.7 100.5,231.6 104.5,230.8 108.5,231.3 112.5,230.2 116.5,230.9 120.5,230.9 124.5,229.3 128.5,226.9 132.5,225.1 136.5,220.4 140.5,215.6 144.5,209.5 148.5,204.4 152.5,199.9 156.5,195.5 160.5,192.0 164.5,189.8 168.5,187.4 172.5,185.5 176.5,182.3 180.5,178.6 184.5,176.3 188.5,173.6 192.5,173.2 196.5,171.6 200.5,169.9 204.5,168.9 208.5,168.8 212.5,167.9 216.5,171.6 220.5,176.0 224.5,180.9 228.5,185.9 232.5,191.6 236.5,195.8 240.5,199.0 244.5,201.9 248.5,204.6 252.5,209.1 256.5,210.8 260.5,212.5 264.5,213.8 268.5,214.4 272.5,214.5 276.5,214.6 280.5,215.1 284.5,215.5 288.5,215.5 292.5,215.6 296.5,213.1 300.5,210.6 304.5,207.7 308.5,202.9 312.5,197.3 316.5,191.6 320.5,185.5 324.5,178.8 328.5,173.7 332.5,169.8 336.5,169.5 340.5,169.2 344.5,168.1 348.5,167.5 352.5,166.3 356.5,165.1 360.5,162.9 364.5,161.6 368.5,159.5 372.5,158.5 376.5,156.9 380.5,154.9 384.5,153.1 388.5,152.9 392.5,152.9 396.5,154.0 400.5,150.1 404.5,146.3 408.5,140.6 412.5,133.8 416.5,126.4 420.5,120.0 424.5,114.1 428.5,110.1 432.5,105.8 436.5,101.4 440.5,97.2 444.5,92.3 448.5,87.6 452.5,83.3 456.5,79.5 460.5,76.0 464.5,72.0 468.5,68.3 472.5,66.0 476.5,64.9 480.5,69.4 484.5,74.5 488.5,79.4 492.5,84.4 496.5,91.0 500.5,99.0 504.5,106.5 508.5,113.2 512.5,121.4 516.5,129.1" fill="none" stroke="#008000" stroke-width="1" />
<polyline points="0.0,259.0 10.0,272.0 18.0,274.0 25.0,277.0 43.0,254.0 46.0,252.6 54.3,253.0 60.0,255.7 65.0,260.7 72.9,265.0 76.5,269.4 80.5,272.6 84.5,271.8 88.5,271.4 92.5,271.8 96.5,271.9 100.5,271.9 104.5,271.6 108.5,270.9 112.5,274.7 116.5,273.4 120.5,273.5 124.5,275.3 128.5,276.4 132.5,278.0 136.5,282.8 140.5,286.1 144.5,283.3 148.5,280.5 152.5,276.9 156.5,268.4 160.5,257.5 164.5,251.7 168.5,244.3 172.5,241.9 176.5,235.5 180.5,228.7 184.5,223.4 188.5,218.5 192.5,218.2 196.5,213.9 200.5,206.3 204.5,204.1 208.5,203.6 212.5,202.1 216.5,211.5 220.5,220.6 224.5,230.9 228.5,241.6 232.5,255.4 236.5,264.5 240.5,272.9 244.5,279.4 248.5,284.6 252.5,291.2 256.5,290.7 260.5,288.8 264.5,288.0 268.5,287.0 272.5,286.8 276.5,286.7 280.5,286.7 284.5,286.2 288.5,286.2 292.5,286.0 296.5,286.0 300.5,284.6 304.5,281.3 308.5,277.7 312.5,268.7 316.5,261.8 320.5,252.6 324.5,244.2 328.5,232.1 332.5,212.6 336.5,211.2 340.5,210.6 344.5,207.8 348.5,207.4 352.5,207.5 356.5,206.5 360.5,200.9 364.5,199.3 368.5,196.7 372.5,195.7 376.5,194.5 380.5,191.8 384.5,188.2 388.5,188.0 392.5,188.0 396.5,189.0 400.5,204.1 404.5,216.5 408.5,226.6 412.5,226.4 416.5,222.4 420.5,217.2 424.5,211.9 428.5,207.1 432.5,204.0 436.5,198.9 440.5,191.8 444.5,185.3 448.5,179.6 452.5,171.4 456.5,164.0 460.5,156.2 464.5,145.6 468.5,132.8 472.5,120.4 476.5,112.0 480.5,128.8 484.5,141.4 488.5,147.6 492.5,156.9 496.5,171.8 500.5,193.9 504.5,210.0 508.5,225.1 512.5,239.6 516.5,251.6" fill="none" stroke="#008000" stroke-width="1" />
<polyline points="0.5,216.4 4.5,211.4 8.5,174.3 12.5,206.4 16.5,223.6 20.5,190.0 24.5,187.0 28.5,183.6 32.5,146.4 36.5,142.0 40.5,142.0 44.5,147.9 48.5,153.6 52.5,170.7 56.5,195.7 60.5,194.3 64.5,195.7 68.5,170.7 72.5,166.4 76.5,152.9 80.5,170.7 84.5,157.9 88.5,165.7 92.5,174.3 96.5,191.0 100.5,170.0 104.5,183.6 108.5,166.4 112.5,221.4 116.5,228.6 120.5,240.7 124.5,248.6 128.5,267.0 132.5,255.0 136.5,258.6 140.5,252.9 144.5,248.6 148.5,261.4 152.5,201.4 156.5,187.0 160.5,195.7 164.5,170.0 168.5,167.9 172.5,175.7 176.5,201.4 180.5,177.9 184.5,183.6 188.5,168.6 192.5,171.4 196.5,179.3 200.5,181.4 204.5,152.9 208.5,155.0 212.5,142.0 216.5,135.7 220.5,120.0 224.5,146.4 228.5,183.6 232.5,193.6 236.5,182.6 240.5,173.6 244.5,157.0 248.5,144.3 252.5,151.4 256.5,157.9 260.5,151.4 264.5,142.0 268.5,148.6 272.5,140.0 276.5,138.0 280.5,145.7 284.5,149.7 288.5,155.0 292.5,162.9 296.5,58.6 300.5,44.3 304.5,32.0 308.5,47.9 312.5,45.0 316.5,54.3 320.5,55.0 324.5,77.5 328.5,57.9 332.5,65.0 336.5,73.6 340.5,52.9 344.5,47.4 348.5,62.9 352.5,63.6 356.5,68.8 360.5,65.5 364.5,75.7 368.5,108.6 372.5,141.4 376.5,148.6 380.5,146.0 384.5,130.7 388.5,147.0 392.5,177.9 396.5,213.6 400.5,206.4 404.5,210.7 408.5,221.4 412.5,219.0" fill="none" stroke="#00ff00" stroke-width="1" />
<polyline points="0.0,146.0 2.0,148.0 4.4,159.6 10.0,162.0 19.0,162.4 25.0,165.0 27.0,169.0 29.3,177.0 32.9,177.9 36.4,183.3 48.6,183.6 55.0,190.0 58.6,191.4 61.4,195.7 65.7,212.5 70.0,228.0 72.0,238.6 73.6,240.5 100.5,240.2 104.5,240.2 108.5,240.2 112.5,230.2 116.5,230.2 120.5,230.2 124.5,230.2 128.5,230.2 132.5,230.2 136.5,215.2 140.5,207.5 144.5,207.5 148.5,207.5 152.5,207.5 156.5,207.5 160.5,207.5 164.5,207.5 168.5,207.5 172.5,198.4 176.5,198.4 180.5,198.4 184.5,195.5 188.5,193.0 192.5,187.3 196.5,180.5 200.5,180.5 204.5,176.8 208.5,176.7 212.5,176.7 216.5,182.7 220.5,182.7 224.5,183.4 228.5,192.3 232.5,207.3 236.5,207.3 240.5,207.3 244.5,212.8 248.5,212.8 252.5,213.6 256.5,213.6 260.5,213.6 264.5,213.6 268.5,213.6 272.5,213.6 276.5,213.6 280.5,213.6 284.5,213.6 288.5,213.6 292.5,213.6 296.5,213.6 300.5,213.6 304.5,213.6 308.5,213.6 312.5,213.6 316.5,213.6 320.5,212.8 324.5,204.8 328.5,196.8 332.5,196.8 336.5,192.1 340.5,188.2 344.5,188.2 348.5,188.2 352.5,188.2 356.5,188.2 360.5,156.8 364.5,156.8 368.5,156.8 372.5,156.8 376.5,156.8 380.5,156.8 384.5,153.4 388.5,152.2 392.5,152.2 396.5,152.2 400.5,121.8 404.5,115.8 408.5,112.2 412.5,104.8 416.5,104.8 420.5,104.8 424.5,104.8 428.5,104.8 432.5,104.8 436.5,104.8 440.5,103.2 444.5,103.2 448.5,100.7 452.5,100.7 456.5,94.3 460.5,94.3 464.5,94.3 468.5,94.3 472.5,94.3 476.5,94.3 480.5,94.3 484.5,94.3 488.5,94.3 492.5,94.3 496.5,100.7 500.5,120.7 504.5,120.7 508.5,120.7 512.5,120.7 516.5,129.9" fill="none" stroke="#0000ff" stroke-width="1" />
<polyline points="0.0,199.3 1.4,200.7 2.9,213.6 4.3,219.3 10.7,220.7 17.0,221.4 21.4,223.6 25.0,230.0 27.9,227.0 31.4,222.9 32.5,222.5 36.5,222.5 40.5,222.2 44.5,222.2 48.5,217.2 52.5,217.2 56.5,215.7 60.5,218.6 64.5,238.6 68.5,240.2 72.5,240.2 76.5,252.7 80.5,252.7 84.5,252.7 88.5,254.8 92.5,245.2 96.5,245.2 100.5,245.2 104.5,236.1 108.5,236.1 112.5,221.1 116.5,218.2 120.5,215.7 124.5,210.0 128.5,203.2 132.5,203.2 136.5,184.4 140.5,176.7 144.5,176.7 148.5,176.7 152.5,176.7 156.5,176.7 160.5,176.7 164.5,176.7 168.5,176.7 172.5,163.4 176.5,168.9 180.5,168.9 184.5,171.4 188.5,172.4 192.5,172.4 196.5,172.4 200.5,170.5 204.5,172.5 208.5,172.5 212.5,172.5 216.5,188.9 220.5,188.9 224.5,189.7 228.5,198.6 232.5,213.6 236.5,213.6 240.5,213.6 244.5,213.6 248.5,213.6 252.5,246.8 256.5,243.6 260.5,229.6 264.5,229.6 268.5,213.2 272.5,209.3 276.5,209.3 280.5,209.3 284.5,209.3 288.5,209.3 292.5,177.8 296.5,177.8 300.5,177.8 304.5,185.0 308.5,178.8 312.5,176.8 316.5,172.0 320.5,168.2 324.5,160.2 328.5,152.2 332.5,152.2 336.5,152.2 340.5,148.7 344.5,148.7 348.5,148.7 352.5,148.7 356.5,148.7 360.5,148.7 364.5,161.9 368.5,161.9 372.5,160.4 376.5,157.2 380.5,152.5 384.5,152.5 388.5,142.1 392.5,143.2 396.5,146.1 400.5,107.8 404.5,101.8 408.5,101.8 412.5,94.3 416.5,94.3 420.5,94.3 424.5,94.3 428.5,94.3 432.5,90.7 436.5,50.7 440.5,50.7 444.5,53.2 448.5,62.2 452.5,62.2 456.5,62.2 460.5,62.2 464.5,62.2 468.5,62.2 472.5,75.4 476.5,95.4 480.5,95.4 484.5,97.9 488.5,103.2 492.5,103.2 496.5,117.5 500.5,137.5 504.5,151.2 508.5,165.3 512.5,174.2 516.5,174.5" fill="none" stroke="#ff0000" stroke-width="1" />
</g>
<path d="M517,0 L526,0 L521.5,4.6 Z" fill="#c0c0c0"/>
<path d="M3.2,6.3 L10.2,6.3 L6.7,10 Z" fill="#000"/>
<text x="15" y="10.7" fill="#000" stroke="#000" textLength="54" lengthAdjust="spacingAndGlyphs" style="font-size:9.8px">XAUUSD,H4</text>
<rect x="0.8" y="4.70" width="654.2" height="2.1" fill="#ff0000"/>
<rect x="0.8" y="59.80" width="654.2" height="2.1" fill="#ff0000"/>
<rect x="0.8" y="126.75" width="654.2" height="2.1" fill="#ff0000"/>
<rect x="0.8" y="174.75" width="654.2" height="2.1" fill="#ff0000"/>
<rect x="0.8" y="250.85" width="654.2" height="2.1" fill="#ff0000"/>
<rect x="0.8" y="290.85" width="654.2" height="2.1" fill="#ff0000"/>
<rect x="654" y="0" width="1" height="479.7" fill="#000"/>
<rect x="0" y="298" width="655" height="1" fill="#000"/>
<rect x="0" y="299.85" width="655" height="1" fill="#000"/>
<rect x="0" y="358" width="655" height="1" fill="#000"/>
<rect x="0" y="360.8" width="655" height="1" fill="#000"/>
<rect x="0" y="478.7" width="655.5" height="1" fill="#000"/>
<rect x="655" y="31.0" width="2" height="1" fill="#000"/>
<text x="660.5" y="34.40" fill="#000" stroke="#000" textLength="32.8" lengthAdjust="spacingAndGlyphs">1301.20</text>
<rect x="655" y="64.5" width="2" height="1" fill="#000"/>
<text x="660.5" y="67.90" fill="#000" stroke="#000" textLength="32.8" lengthAdjust="spacingAndGlyphs">1296.70</text>
<rect x="655" y="97.0" width="2" height="1" fill="#000"/>
<text x="660.5" y="100.40" fill="#000" stroke="#000" textLength="32.8" lengthAdjust="spacingAndGlyphs">1292.30</text>
<rect x="655" y="130.5" width="2" height="1" fill="#000"/>
<text x="660.5" y="133.90" fill="#000" stroke="#000" textLength="32.8" lengthAdjust="spacingAndGlyphs">1287.80</text>
<rect x="655" y="163.2" width="2" height="1" fill="#000"/>
<text x="660.5" y="166.65" fill="#000" stroke="#000" textLength="32.8" lengthAdjust="spacingAndGlyphs">1283.40</text>
<rect x="655" y="196.5" width="2" height="1" fill="#000"/>
<text x="660.5" y="199.90" fill="#000" stroke="#000" textLength="32.8" lengthAdjust="spacingAndGlyphs">1279.00</text>
<rect x="655" y="228.9" width="2" height="1" fill="#000"/>
<text x="660.5" y="232.30" fill="#000" stroke="#000" textLength="32.8" lengthAdjust="spacingAndGlyphs">1274.50</text>
<rect x="655" y="262.0" width="2" height="1" fill="#000"/>
<text x="660.5" y="265.40" fill="#000" stroke="#000" textLength="32.8" lengthAdjust="spacingAndGlyphs">1270.10</text>
<rect x="655" y="295.3" width="2" height="1" fill="#000"/>
<text x="660.5" y="298.70" fill="#000" stroke="#000" textLength="32.8" lengthAdjust="spacingAndGlyphs">1265.60</text>
<rect x="656.3" y="214.3" width="40.7" height="10.4" fill="#000"/>
<text x="660.5" y="222.40" fill="#fff" stroke="#fff" textLength="32.8" lengthAdjust="spacingAndGlyphs">1275.83</text>
<rect x="656.3" y="0" width="40.7" height="10.7" fill="#ff0000"/>
<text x="660.5" y="8.10" fill="#fff" stroke="#fff" textLength="32.8" lengthAdjust="spacingAndGlyphs">1304.60</text>
<rect x="656.3" y="55.40" width="40.7" height="10.6" fill="#ff0000"/>
<text x="660.5" y="63.55" fill="#fff" stroke="#fff" textLength="32.8" lengthAdjust="spacingAndGlyphs">1297.17</text>
<rect x="656.3" y="122.35" width="40.7" height="10.6" fill="#ff0000"/>
<text x="660.5" y="130.50" fill="#fff" stroke="#fff" textLength="32.8" lengthAdjust="spacingAndGlyphs">1288.09</text>
<rect x="656.3" y="170.35" width="40.7" height="10.6" fill="#ff0000"/>
<text x="660.5" y="178.50" fill="#fff" stroke="#fff" textLength="32.8" lengthAdjust="spacingAndGlyphs">1281.69</text>
<rect x="656.3" y="246.45" width="40.7" height="10.6" fill="#ff0000"/>
<text x="660.5" y="254.60" fill="#fff" stroke="#fff" textLength="32.8" lengthAdjust="spacingAndGlyphs">1271.45</text>
<rect x="656.3" y="286.45" width="40.7" height="10.6" fill="#ff0000"/>
<text x="660.5" y="294.60" fill="#fff" stroke="#fff" textLength="32.8" lengthAdjust="spacingAndGlyphs">1266.08</text>
<text x="658.5" y="310.50" fill="#000" stroke="#000" textLength="22" lengthAdjust="spacingAndGlyphs">4.842</text>
<text x="658.5" y="330.50" fill="#000" stroke="#000" textLength="17.5" lengthAdjust="spacingAndGlyphs">0.00</text>
<text x="658.5" y="355.50" fill="#000" stroke="#000" textLength="25.5" lengthAdjust="spacingAndGlyphs">-6.024</text>
<text x="658.5" y="370.90" fill="#000" stroke="#000" textLength="15" lengthAdjust="spacingAndGlyphs">100</text>
<text x="657.2" y="389.70" fill="#000" stroke="#000" textLength="10" lengthAdjust="spacingAndGlyphs">80</text>
<text x="657.2" y="458.50" fill="#000" stroke="#000" textLength="10" lengthAdjust="spacingAndGlyphs">20</text>
<text x="658.5" y="475.40" fill="#000" stroke="#000" textLength="4.5" lengthAdjust="spacingAndGlyphs">0</text>
<text x="4.5" y="313" fill="#000" stroke="#000" textLength="123.5" lengthAdjust="spacingAndGlyphs">MACD(12,26,9) -4.248 -2.368</text>
<text x="4.5" y="374.2" fill="#000" stroke="#000" textLength="121" lengthAdjust="spacingAndGlyphs">Stoch(5,3,3) 11.4580 13.5659</text>
<line x1="0" y1="386.4" x2="654" y2="386.4" stroke="#c0c0c0" stroke-width="1" stroke-dasharray="3,3"/>
<line x1="0" y1="455.5" x2="654" y2="455.5" stroke="#c0c0c0" stroke-width="1" stroke-dasharray="3,3"/>
<g clip-path="url(#c2)">
<rect x="-0.95" y="327.0" width="2.9" height="29.6" fill="#00008b"/>
<rect x="3.05" y="327.0" width="2.9" height="29.9" fill="#00008b"/>
<rect x="7.05" y="327.0" width="2.9" height="29.6" fill="#00008b"/>
<rect x="11.05" y="327.0" width="2.9" height="28.1" fill="#00008b"/>
<rect x="15.05" y="327.0" width="2.9" height="26.0" fill="#00008b"/>
<rect x="19.05" y="327.0" width="2.9" height="25.0" fill="#00008b"/>
<rect x="23.05" y="327.0" width="2.9" height="23.1" fill="#00008b"/>
<rect x="27.05" y="327.0" width="2.9" height="21.0" fill="#00008b"/>
<rect x="31.05" y="327.0" width="2.9" height="18.9" fill="#00008b"/>
<rect x="35.05" y="327.0" width="2.9" height="16.4" fill="#00008b"/>
<rect x="39.05" y="327.0" width="2.9" height="15.6" fill="#00008b"/>
<rect x="43.05" y="327.0" width="2.9" height="15.3" fill="#00008b"/>
<rect x="47.05" y="327.0" width="2.9" height="14.6" fill="#00008b"/>
<rect x="51.05" y="327.0" width="2.9" height="13.9" fill="#00008b"/>
<rect x="55.05" y="327.0" width="2.9" height="14.6" fill="#00008b"/>
<rect x="59.05" y="327.0" width="2.9" height="15.0" fill="#00008b"/>
<rect x="63.05" y="327.0" width="2.9" height="15.6" fill="#00008b"/>
<rect x="67.05" y="327.0" width="2.9" height="15.6" fill="#00008b"/>
<rect x="71.05" y="327.0" width="2.9" height="15.0" fill="#00008b"/>
<rect x="75.05" y="327.0" width="2.9" height="15.3" fill="#00008b"/>
<rect x="79.05" y="327.0" width="2.9" height="15.6" fill="#00008b"/>
<rect x="83.05" y="327.0" width="2.9" height="14.6" fill="#00008b"/>
<rect x="87.05" y="327.0" width="2.9" height="13.9" fill="#00008b"/>
<rect x="91.05" y="327.0" width="2.9" height="11.0" fill="#00008b"/>
<rect x="95.05" y="327.0" width="2.9" height="9.6" fill="#00008b"/>
<rect x="99.05" y="327.0" width="2.9" height="8.4" fill="#00008b"/>
<rect x="103.05" y="327.0" width="2.9" height="6.7" fill="#00008b"/>
<rect x="107.05" y="327.0" width="2.9" height="4.6" fill="#00008b"/>
<rect x="111.05" y="327.0" width="2.9" height="1.7" fill="#00008b"/>
<rect x="115.05" y="327.0" width="2.9" height="1.0" fill="#00008b"/>
<rect x="119.05" y="326.2" width="2.9" height="1.0" fill="#00008b"/>
<rect x="123.05" y="326.2" width="2.9" height="1.0" fill="#00008b"/>
<rect x="127.05" y="324.1" width="2.9" height="2.9" fill="#00008b"/>
<rect x="131.05" y="323.0" width="2.9" height="4.0" fill="#00008b"/>
<rect x="135.05" y="320.1" width="2.9" height="6.9" fill="#00008b"/>
<rect x="139.05" y="317.3" width="2.9" height="9.7" fill="#00008b"/>
<rect x="143.05" y="315.9" width="2.9" height="11.1" fill="#00008b"/>
<rect x="147.05" y="314.0" width="2.9" height="13.0" fill="#00008b"/>
<rect x="151.05" y="314.0" width="2.9" height="13.0" fill="#00008b"/>
<rect x="155.05" y="314.9" width="2.9" height="12.1" fill="#00008b"/>
<rect x="159.05" y="316.9" width="2.9" height="10.1" fill="#00008b"/>
<rect x="163.05" y="319.1" width="2.9" height="7.9" fill="#00008b"/>
<rect x="167.05" y="320.6" width="2.9" height="6.4" fill="#00008b"/>
<rect x="171.05" y="320.1" width="2.9" height="6.9" fill="#00008b"/>
<rect x="175.05" y="319.7" width="2.9" height="7.3" fill="#00008b"/>
<rect x="179.05" y="318.7" width="2.9" height="8.3" fill="#00008b"/>
<rect x="183.05" y="319.4" width="2.9" height="7.6" fill="#00008b"/>
<rect x="187.05" y="319.4" width="2.9" height="7.6" fill="#00008b"/>
<rect x="191.05" y="319.7" width="2.9" height="7.3" fill="#00008b"/>
<rect x="195.05" y="320.6" width="2.9" height="6.4" fill="#00008b"/>
<rect x="199.05" y="322.0" width="2.9" height="5.0" fill="#00008b"/>
<rect x="203.05" y="322.0" width="2.9" height="5.0" fill="#00008b"/>
<rect x="207.05" y="323.0" width="2.9" height="4.0" fill="#00008b"/>
<rect x="211.05" y="323.0" width="2.9" height="4.0" fill="#00008b"/>
<rect x="215.05" y="326.0" width="2.9" height="1.0" fill="#00008b"/>
<rect x="219.05" y="327.0" width="2.9" height="1.7" fill="#00008b"/>
<rect x="223.05" y="327.0" width="2.9" height="5.0" fill="#00008b"/>
<rect x="227.05" y="327.0" width="2.9" height="7.9" fill="#00008b"/>
<rect x="231.05" y="327.0" width="2.9" height="10.7" fill="#00008b"/>
<rect x="235.05" y="327.0" width="2.9" height="11.7" fill="#00008b"/>
<rect x="239.05" y="327.0" width="2.9" height="13.6" fill="#00008b"/>
<rect x="243.05" y="327.0" width="2.9" height="13.6" fill="#00008b"/>
<rect x="247.05" y="327.0" width="2.9" height="13.6" fill="#00008b"/>
<rect x="251.05" y="327.0" width="2.9" height="14.6" fill="#00008b"/>
<rect x="255.05" y="327.0" width="2.9" height="11.7" fill="#00008b"/>
<rect x="259.05" y="327.0" width="2.9" height="7.9" fill="#00008b"/>
<rect x="263.05" y="327.0" width="2.9" height="6.0" fill="#00008b"/>
<rect x="267.05" y="327.0" width="2.9" height="2.7" fill="#00008b"/>
<rect x="271.05" y="326.2" width="2.9" height="0.8" fill="#00008b"/>
<rect x="275.05" y="325.1" width="2.9" height="1.9" fill="#00008b"/>
<rect x="279.05" y="325.1" width="2.9" height="1.9" fill="#00008b"/>
<rect x="283.05" y="324.1" width="2.9" height="2.9" fill="#00008b"/>
<rect x="287.05" y="323.4" width="2.9" height="3.6" fill="#00008b"/>
<rect x="291.05" y="322.0" width="2.9" height="5.0" fill="#00008b"/>
<rect x="295.05" y="320.9" width="2.9" height="6.1" fill="#00008b"/>
<rect x="299.05" y="320.9" width="2.9" height="6.1" fill="#00008b"/>
<rect x="303.05" y="320.9" width="2.9" height="6.1" fill="#00008b"/>
<rect x="307.05" y="319.9" width="2.9" height="7.1" fill="#00008b"/>
<rect x="311.05" y="319.0" width="2.9" height="8.0" fill="#00008b"/>
<rect x="315.05" y="316.9" width="2.9" height="10.1" fill="#00008b"/>
<rect x="319.05" y="315.9" width="2.9" height="11.1" fill="#00008b"/>
<rect x="323.05" y="313.7" width="2.9" height="13.3" fill="#00008b"/>
<rect x="327.05" y="314.9" width="2.9" height="12.1" fill="#00008b"/>
<rect x="331.05" y="316.9" width="2.9" height="10.1" fill="#00008b"/>
<rect x="335.05" y="319.9" width="2.9" height="7.1" fill="#00008b"/>
<rect x="339.05" y="320.9" width="2.9" height="6.1" fill="#00008b"/>
<rect x="343.05" y="322.0" width="2.9" height="5.0" fill="#00008b"/>
<rect x="347.05" y="320.9" width="2.9" height="6.1" fill="#00008b"/>
<rect x="351.05" y="320.1" width="2.9" height="6.9" fill="#00008b"/>
<rect x="355.05" y="319.1" width="2.9" height="7.9" fill="#00008b"/>
<rect x="359.05" y="320.1" width="2.9" height="6.9" fill="#00008b"/>
<rect x="363.05" y="320.9" width="2.9" height="6.1" fill="#00008b"/>
<rect x="367.05" y="319.9" width="2.9" height="7.1" fill="#00008b"/>
<rect x="371.05" y="320.1" width="2.9" height="6.9" fill="#00008b"/>
<rect x="375.05" y="319.9" width="2.9" height="7.1" fill="#00008b"/>
<rect x="379.05" y="319.0" width="2.9" height="8.0" fill="#00008b"/>
<rect x="383.05" y="319.9" width="2.9" height="7.1" fill="#00008b"/>
<rect x="387.05" y="319.9" width="2.9" height="7.1" fill="#00008b"/>
<rect x="391.05" y="320.9" width="2.9" height="6.1" fill="#00008b"/>
<rect x="395.05" y="321.6" width="2.9" height="5.4" fill="#00008b"/>
<rect x="399.05" y="316.9" width="2.9" height="10.1" fill="#00008b"/>
<rect x="403.05" y="313.0" width="2.9" height="14.0" fill="#00008b"/>
<rect x="407.05" y="308.0" width="2.9" height="19.0" fill="#00008b"/>
<rect x="411.05" y="305.9" width="2.9" height="21.1" fill="#00008b"/>
<rect x="415.05" y="304.9" width="2.9" height="22.1" fill="#00008b"/>
<rect x="419.05" y="304.0" width="2.9" height="23.0" fill="#00008b"/>
<rect x="423.05" y="304.0" width="2.9" height="23.0" fill="#00008b"/>
<rect x="427.05" y="305.9" width="2.9" height="21.1" fill="#00008b"/>
<rect x="431.05" y="305.9" width="2.9" height="21.1" fill="#00008b"/>
<rect x="435.05" y="306.9" width="2.9" height="20.1" fill="#00008b"/>
<rect x="439.05" y="308.0" width="2.9" height="19.0" fill="#00008b"/>
<rect x="443.05" y="308.0" width="2.9" height="19.0" fill="#00008b"/>
<rect x="447.05" y="308.0" width="2.9" height="19.0" fill="#00008b"/>
<rect x="451.05" y="309.0" width="2.9" height="18.0" fill="#00008b"/>
<rect x="455.05" y="310.1" width="2.9" height="16.9" fill="#00008b"/>
<rect x="459.05" y="312.0" width="2.9" height="15.0" fill="#00008b"/>
<rect x="463.05" y="313.0" width="2.9" height="14.0" fill="#00008b"/>
<rect x="467.05" y="314.0" width="2.9" height="13.0" fill="#00008b"/>
<rect x="471.05" y="318.0" width="2.9" height="9.0" fill="#00008b"/>
<rect x="475.05" y="322.0" width="2.9" height="5.0" fill="#00008b"/>
<rect x="479.05" y="325.9" width="2.9" height="1.1" fill="#00008b"/>
<rect x="483.05" y="327.0" width="2.9" height="2.7" fill="#00008b"/>
<rect x="487.05" y="327.0" width="2.9" height="3.9" fill="#00008b"/>
<rect x="491.05" y="327.0" width="2.9" height="6.7" fill="#00008b"/>
<rect x="495.05" y="327.0" width="2.9" height="9.9" fill="#00008b"/>
<rect x="499.05" y="327.0" width="2.9" height="13.9" fill="#00008b"/>
<rect x="503.05" y="327.0" width="2.9" height="17.0" fill="#00008b"/>
<rect x="507.05" y="327.0" width="2.9" height="20.0" fill="#00008b"/>
<rect x="511.05" y="327.0" width="2.9" height="21.7" fill="#00008b"/>
<rect x="515.05" y="327.0" width="2.9" height="22.7" fill="#00008b"/>
<polyline points="0.0,354.4 8.6,355.1 14.3,355.1 25.7,353.0 35.7,350.1 45.7,346.6 55.7,343.0 61.4,342.3 71.4,341.6 80.0,340.9 88.6,340.9 97.0,339.4 100.0,338.7 108.6,337.3 114.3,335.1 121.4,332.3 127.0,330.1 134.3,328.0 140.0,325.1 145.7,323.0 151.4,320.9 157.0,319.1 162.9,317.3 168.6,317.0 180.0,318.0 188.6,319.4 200.0,320.4 205.7,320.6 214.3,322.0 221.4,323.4 228.6,325.1 235.7,328.7 241.4,332.0 247.0,334.9 252.9,337.3 258.6,338.3 264.3,338.3 271.4,336.3 277.0,333.7 282.9,330.9 288.6,328.3 295.7,325.9 300.0,324.4 307.0,323.0 314.3,321.6 321.4,320.1 328.6,318.7 335.7,318.3 354.3,318.3 357.0,320.1 362.9,320.6 374.3,320.9 385.7,320.6 400.0,319.9 405.7,319.4 410.0,317.3 415.7,315.4 421.4,312.3 428.6,309.4 434.3,307.3 440.0,306.6 448.6,306.6 457.0,307.3 464.3,309.4 470.0,310.6 475.7,312.7 481.4,315.9 487.0,318.7 493.6,323.4 500.0,328.0 505.7,332.3 512.9,337.3 516.5,339.5" fill="none" stroke="#ff0000" stroke-width="1" stroke-dasharray="2.6,2.4" />
</g>
<g clip-path="url(#c3)">
<polyline points="0.0,446.0 3.6,452.4 8.4,464.4 12.0,462.0 15.6,448.8 19.2,428.4 24.0,414.7 28.8,406.8 33.6,396.0 37.7,386.4 40.8,390.0 44.4,398.4 48.0,427.2 51.6,441.6 55.2,452.4 58.8,458.4 62.4,458.4 67.2,450.0 72.0,434.4 76.8,417.6 81.6,412.8 86.4,408.0 91.2,399.6 94.8,392.4 100.8,396.0 105.6,404.4 110.4,399.6 115.2,394.8 121.2,403.2 124.8,417.6 128.4,428.4 132.0,418.8 135.6,405.6 140.0,394.0 144.8,385.2 149.6,383.5 154.4,388.8 158.0,399.6 161.6,415.2 165.2,433.2 168.8,452.4 171.7,462.0 174.8,454.8 178.4,436.8 182.0,416.4 185.6,402.0 189.2,396.0 192.8,404.4 197.6,416.4 201.2,430.8 204.8,439.2 208.4,441.6 212.0,430.8 215.6,423.6 221.6,432.0 224.0,448.8 227.6,459.6 231.2,465.6 234.8,464.4 238.4,458.4 242.0,450.0 245.6,434.4 249.2,416.4 252.8,402.0 256.4,394.8 260.0,387.6 264.8,384.0 270.8,384.5 275.6,387.6 280.0,395.4 283.6,406.8 287.2,422.4 290.0,427.7 293.2,424.8 296.8,414.0 300.4,400.8 305.2,394.8 310.0,394.8 314.8,390.0 319.6,382.8 324.4,372.0 328.0,375.6 330.9,391.2 334.7,417.6 337.6,439.2 340.5,456.0 343.6,465.6 347.2,462.0 350.8,448.8 354.4,427.2 358.0,411.6 361.6,402.0 365.2,404.4 370.0,408.0 376.0,408.7 380.8,410.9 385.6,417.6 390.4,424.8 395.2,436.8 397.6,439.2 401.2,429.6 404.8,412.8 408.4,391.2 412.0,380.4 416.8,376.8 420.4,384.0 424.0,394.8 426.9,410.4 430.0,427.2 434.8,441.6 438.4,436.8 442.0,428.4 445.6,420.0 450.4,408.0 455.2,403.7 458.8,408.0 462.9,418.8 467.2,429.6 472.0,442.8 475.6,454.8 480.4,462.0 485.2,464.4 490.0,462.0 494.8,456.0 499.6,457.2 504.4,460.8 509.2,460.8 514.0,462.7 516.5,463.5" fill="none" stroke="#ff0000" stroke-width="1" stroke-dasharray="2.6,2.4" />
<polyline points="0.0,460.3 8.4,471.6 12.0,453.6 16.8,417.6 20.4,405.0 24.5,413.3 28.8,399.6 32.9,386.4 36.5,373.2 40.8,396.0 44.4,424.8 48.5,458.9 52.8,455.5 56.4,465.0 60.0,457.2 64.3,452.4 68.4,432.0 72.5,418.8 76.8,409.2 80.9,410.9 85.2,405.0 88.8,398.4 92.4,382.0 96.0,393.6 100.3,400.8 104.4,408.0 108.5,398.4 112.3,384.5 116.4,396.0 120.0,415.2 124.3,434.4 128.4,424.8 132.0,405.6 136.3,391.2 140.0,385.2 144.3,381.1 148.4,386.4 152.5,391.2 156.3,403.2 160.4,434.4 164.5,464.4 168.3,468.5 172.4,448.8 176.5,421.2 180.8,390.7 184.4,396.0 188.5,400.8 192.3,414.0 196.4,423.6 200.5,449.3 204.3,441.6 208.4,432.0 212.5,408.0 216.3,432.0 220.4,451.2 224.5,465.6 228.8,469.2 232.4,466.8 236.5,457.2 240.3,444.0 244.4,417.6 248.5,399.6 252.3,396.0 256.4,384.7 260.5,384.0 264.3,382.0 268.4,386.4 272.5,385.9 276.3,391.2 280.0,409.2 284.3,434.9 288.4,436.3 292.5,408.0 296.3,396.0 300.4,388.3 304.5,399.6 308.3,395.5 312.4,390.7 316.5,376.3 320.3,371.5 324.4,364.3 328.5,388.8 332.3,429.6 336.4,465.6 340.5,470.4 344.3,463.7 348.4,442.8 352.5,411.6 356.3,390.7 360.4,400.8 364.5,413.3 368.8,409.2 372.4,407.5 376.0,407.5 380.3,416.4 384.4,418.8 388.5,429.6 392.3,440.4 396.4,450.0 400.5,417.6 404.3,386.4 408.4,371.5 412.5,375.6 416.3,379.2 420.4,393.6 424.0,410.4 428.3,451.2 432.4,440.4 436.5,432.0 440.3,420.0 444.4,410.4 448.5,403.2 452.3,399.6 456.4,410.4 460.5,423.6 464.3,430.8 468.4,444.0 472.5,457.2 476.3,462.0 480.4,463.7 484.0,465.1 488.3,459.6 492.4,454.8 496.0,453.1 500.3,462.7 504.4,460.8 508.0,460.8 512.3,462.7 515.7,464.4" fill="none" stroke="#20b2aa" stroke-width="1" />
</g>
<rect x="0.0" y="479.5" width="1" height="2.7" fill="#000"/>
<text x="0.5" y="491.8" fill="#000" stroke="#000" textLength="49.5" lengthAdjust="spacingAndGlyphs">17 Apr 2019</text>
<rect x="64.0" y="479.5" width="1" height="2.7" fill="#000"/>
<text x="63.7" y="491.8" fill="#000" stroke="#000" textLength="53.5" lengthAdjust="spacingAndGlyphs">23 Apr 13:00</text>
<rect x="128.0" y="479.5" width="1" height="2.7" fill="#000"/>
<text x="127.7" y="491.8" fill="#000" stroke="#000" textLength="53.5" lengthAdjust="spacingAndGlyphs">26 Apr 05:00</text>
<rect x="192.0" y="479.5" width="1" height="2.7" fill="#000"/>
<text x="191.7" y="491.8" fill="#000" stroke="#000" textLength="53.5" lengthAdjust="spacingAndGlyphs">30 Apr 21:00</text>
<rect x="256.0" y="479.5" width="1" height="2.7" fill="#000"/>
<text x="255.7" y="491.8" fill="#000" stroke="#000" textLength="52" lengthAdjust="spacingAndGlyphs">3 May 13:00</text>
<rect x="320.0" y="479.5" width="1" height="2.7" fill="#000"/>
<text x="319.7" y="491.8" fill="#000" stroke="#000" textLength="52" lengthAdjust="spacingAndGlyphs">8 May 05:00</text>
<rect x="384.0" y="479.5" width="1" height="2.7" fill="#000"/>
<text x="383.7" y="491.8" fill="#000" stroke="#000" textLength="57.5" lengthAdjust="spacingAndGlyphs">10 May 21:00</text>
<rect x="448.0" y="479.5" width="1" height="2.7" fill="#000"/>
<text x="447.7" y="491.8" fill="#000" stroke="#000" textLength="57.5" lengthAdjust="spacingAndGlyphs">15 May 13:00</text>
<rect x="512.0" y="479.5" width="1" height="2.7" fill="#000"/>
<text x="511.7" y="491.8" fill="#000" stroke="#000" textLength="57.5" lengthAdjust="spacingAndGlyphs">20 May 05:00</text>
</svg></body></html>
